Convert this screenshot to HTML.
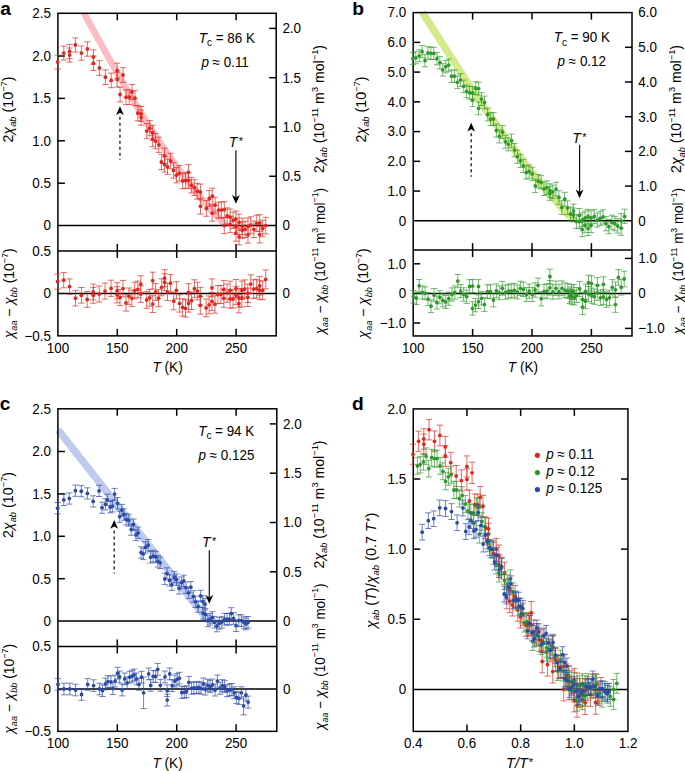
<!DOCTYPE html>
<html><head><meta charset="utf-8"><style>html,body{margin:0;padding:0;background:#fff;width:685px;height:771px;overflow:hidden}svg{display:block}text{font-family:"Liberation Sans",sans-serif}</style></head><body>
<svg width="685" height="771" viewBox="0 0 685 771">
<rect width="685" height="771" fill="#fff"/>
<g fill="#000">
<text x="0.2" y="14.6" font-size="19.2" font-weight="bold">a</text>
<text x="352.3" y="14.6" font-size="19.2" font-weight="bold">b</text>
<text x="-0.3" y="410.0" font-size="19.2" font-weight="bold">c</text>
<text x="352.0" y="410.0" font-size="19.2" font-weight="bold">d</text>
<clipPath id="au"><rect x="57.9" y="13.3" width="218.29999999999998" height="237.6"/></clipPath>
<clipPath id="al"><rect x="57.9" y="250.9" width="218.29999999999998" height="84.95000000000002"/></clipPath>
<clipPath id="cl225"><rect x="0" y="0" width="685" height="225.60"/></clipPath>
<path d="M84.06 13.50 L86.15 17.23 L88.23 20.96 L90.30 24.69 L92.37 28.42 L94.44 32.15 L96.51 35.88 L98.58 39.61 L100.65 43.34 L102.72 47.07 L104.80 50.81 L106.88 54.54 L108.97 58.27 L111.06 62.00 L113.16 65.73 L115.27 69.46 L117.39 73.19 L119.52 76.92 L121.66 80.65 L123.82 84.38 L125.98 88.11 L128.17 91.84 L130.37 95.57 L132.59 99.30 L134.83 103.03 L137.08 106.76 L139.36 110.49 L141.66 114.22 L143.98 117.95 L146.32 121.68 L148.70 125.42 L151.09 129.15 L153.52 132.88 L155.97 136.61 L158.45 140.34 L160.96 144.07 L163.50 147.80 L166.08 151.53 L168.68 155.26 L171.33 158.99 L174.01 162.72 L176.72 166.45 L179.48 170.18 L182.27 173.91 L185.10 177.64 L187.97 181.37 L190.89 185.10 L193.85 188.83 L196.85 192.56 L199.90 196.29 L202.99 200.03 L206.14 203.76 L209.33 207.49 L212.57 211.22 L215.86 214.95 L219.20 218.68 L222.60 222.41 L226.05 226.14 L229.56 229.87 L233.12 233.60" fill="none" stroke="#fdbcc4" stroke-width="6.6" clip-path="url(#cl225)"/>
<line x1="57.90" y1="225.60" x2="276.20" y2="225.60" stroke="#000" stroke-width="1.5"/>
<line x1="57.90" y1="293.50" x2="276.20" y2="293.50" stroke="#000" stroke-width="1.5"/>
<rect x="57.90" y="13.30" width="218.30" height="322.55" fill="none" stroke="#000" stroke-width="1.5"/>
<line x1="57.90" y1="250.90" x2="276.20" y2="250.90" stroke="#000" stroke-width="1.5"/>
<line x1="117.30" y1="13.30" x2="117.30" y2="20.30" stroke="#000" stroke-width="1.5"/>
<line x1="117.30" y1="243.90" x2="117.30" y2="257.90" stroke="#000" stroke-width="1.5"/>
<line x1="117.30" y1="328.85" x2="117.30" y2="335.85" stroke="#000" stroke-width="1.5"/>
<line x1="176.70" y1="13.30" x2="176.70" y2="20.30" stroke="#000" stroke-width="1.5"/>
<line x1="176.70" y1="243.90" x2="176.70" y2="257.90" stroke="#000" stroke-width="1.5"/>
<line x1="176.70" y1="328.85" x2="176.70" y2="335.85" stroke="#000" stroke-width="1.5"/>
<line x1="236.10" y1="13.30" x2="236.10" y2="20.30" stroke="#000" stroke-width="1.5"/>
<line x1="236.10" y1="243.90" x2="236.10" y2="257.90" stroke="#000" stroke-width="1.5"/>
<line x1="236.10" y1="328.85" x2="236.10" y2="335.85" stroke="#000" stroke-width="1.5"/>
<text transform="translate(50.90,230.40) scale(0.94,1)" font-size="14.3" text-anchor="end">0</text>
<line x1="57.90" y1="183.20" x2="64.90" y2="183.20" stroke="#000" stroke-width="1.5"/>
<text transform="translate(50.90,188.00) scale(0.94,1)" font-size="14.3" text-anchor="end">0.5</text>
<line x1="57.90" y1="140.80" x2="64.90" y2="140.80" stroke="#000" stroke-width="1.5"/>
<text transform="translate(50.90,145.60) scale(0.94,1)" font-size="14.3" text-anchor="end">1.0</text>
<line x1="57.90" y1="98.40" x2="64.90" y2="98.40" stroke="#000" stroke-width="1.5"/>
<text transform="translate(50.90,103.20) scale(0.94,1)" font-size="14.3" text-anchor="end">1.5</text>
<line x1="57.90" y1="56.00" x2="64.90" y2="56.00" stroke="#000" stroke-width="1.5"/>
<text transform="translate(50.90,60.80) scale(0.94,1)" font-size="14.3" text-anchor="end">2.0</text>
<text transform="translate(50.90,18.40) scale(0.94,1)" font-size="14.3" text-anchor="end">2.5</text>
<text transform="translate(282.40,230.40) scale(0.94,1)" font-size="14.3" text-anchor="start">0</text>
<line x1="269.20" y1="176.30" x2="276.20" y2="176.30" stroke="#000" stroke-width="1.5"/>
<text transform="translate(282.40,181.10) scale(0.94,1)" font-size="14.3" text-anchor="start">0.5</text>
<line x1="269.20" y1="127.00" x2="276.20" y2="127.00" stroke="#000" stroke-width="1.5"/>
<text transform="translate(282.40,131.80) scale(0.94,1)" font-size="14.3" text-anchor="start">1.0</text>
<line x1="269.20" y1="77.70" x2="276.20" y2="77.70" stroke="#000" stroke-width="1.5"/>
<text transform="translate(282.40,82.50) scale(0.94,1)" font-size="14.3" text-anchor="start">1.5</text>
<line x1="269.20" y1="28.40" x2="276.20" y2="28.40" stroke="#000" stroke-width="1.5"/>
<text transform="translate(282.40,33.20) scale(0.94,1)" font-size="14.3" text-anchor="start">2.0</text>
<text transform="translate(50.90,255.80) scale(0.94,1)" font-size="14.3" text-anchor="end">0.5</text>
<text transform="translate(50.90,298.30) scale(0.94,1)" font-size="14.3" text-anchor="end">0</text>
<text transform="translate(50.90,340.80) scale(0.94,1)" font-size="14.3" text-anchor="end">−0.5</text>
<text transform="translate(282.40,298.30) scale(0.94,1)" font-size="14.3" text-anchor="start">0</text>
<g stroke="#e0261d" stroke-width="0.95" fill="none" stroke-opacity="0.72"><path d="M57.6 55.1V69.1M54.5 55.1H60.7M54.5 69.1H60.7M63.8 46.1V60.1M60.7 46.1H66.9M60.7 60.1H66.9M69.6 44.4V58.6M66.5 44.4H72.7M66.5 58.6H72.7M69.6 48.0V62.2M66.5 48.0H72.7M66.5 62.2H72.7M75.4 37.9V52.1M72.3 37.9H78.5M72.3 52.1H78.5M81.4 46.0V60.2M78.3 46.0H84.5M78.3 60.2H84.5M87.4 41.8V56.2M84.3 41.8H90.5M84.3 56.2H90.5M93.4 49.8V64.2M90.3 49.8H96.5M90.3 64.2H96.5M93.4 56.1V70.5M90.3 56.1H96.5M90.3 70.5H96.5M99.4 60.7V75.3M96.3 60.7H102.5M96.3 75.3H102.5M105.4 69.9V84.5M102.3 69.9H108.5M102.3 84.5H108.5M111.2 73.1V87.7M108.1 73.1H114.3M108.1 87.7H114.3M117.2 63.2V78.0M114.1 63.2H120.3M114.1 78.0H120.3M117.2 72.2V87.0M114.1 72.2H120.3M114.1 87.0H120.3M123.0 67.6V82.4M119.9 67.6H126.1M119.9 82.4H126.1M120.1 87.1V101.9M117.0 87.1H123.2M117.0 101.9H123.2M126.0 89.8V104.6M122.9 89.8H129.1M122.9 104.6H129.1M129.2 89.8V104.6M126.1 89.8H132.3M126.1 104.6H132.3M132.0 84.5V99.5M128.9 84.5H135.1M128.9 99.5H135.1M135.0 90.7V105.7M131.9 90.7H138.1M131.9 105.7H138.1M137.9 105.7V120.7M134.8 105.7H141.0M134.8 120.7H141.0M141.1 106.5V121.5M138.0 106.5H144.2M138.0 121.5H144.2M141.1 110.1V125.1M138.0 110.1H144.2M138.0 125.1H144.2M146.8 123.5V138.7M143.7 123.5H149.9M143.7 138.7H149.9M149.7 120.6V135.8M146.6 120.6H152.8M146.6 135.8H152.8M152.6 125.2V140.4M149.5 125.2H155.7M149.5 140.4H155.7M152.6 131.5V146.7M149.5 131.5H155.7M149.5 146.7H155.7M155.5 133.6V148.8M152.4 133.6H158.6M152.4 148.8H158.6M158.8 137.2V152.4M155.7 137.2H161.9M155.7 152.4H161.9M164.6 148.1V163.5M161.5 148.1H167.7M161.5 163.5H167.7M161.4 154.4V169.6M158.3 154.4H164.5M158.3 169.6H164.5M164.6 156.8V172.2M161.5 156.8H167.7M161.5 172.2H167.7M167.5 159.2V174.6M164.4 159.2H170.6M164.4 174.6H170.6M170.6 153.3V168.7M167.5 153.3H173.7M167.5 168.7H173.7M173.5 162.7V178.1M170.4 162.7H176.6M170.4 178.1H176.6M176.4 167.5V182.9M173.3 167.5H179.5M173.3 182.9H179.5M179.3 165.5V181.1M176.2 165.5H182.4M176.2 181.1H182.4M188.4 164.5V180.1M185.3 164.5H191.5M185.3 180.1H191.5M182.6 173.2V188.8M179.5 173.2H185.7M179.5 188.8H185.7M185.5 172.8V188.4M182.4 172.8H188.6M182.4 188.4H188.6M188.4 172.8V188.4M185.3 172.8H191.5M185.3 188.4H191.5M191.4 177.4V193.0M188.3 177.4H194.5M188.3 193.0H194.5M194.3 179.7V195.5M191.2 179.7H197.4M191.2 195.5H197.4M197.2 183.3V199.1M194.1 183.3H200.3M194.1 199.1H200.3M200.4 184.1V199.9M197.3 184.1H203.5M197.3 199.9H203.5M200.5 198.3V214.1M197.4 198.3H203.6M197.4 214.1H203.6M206.4 200.5V216.3M203.3 200.5H209.5M203.3 216.3H209.5M209.2 190.6V206.4M206.1 190.6H212.3M206.1 206.4H212.3M212.3 188.2V204.2M209.2 188.2H215.4M209.2 204.2H215.4M212.2 205.2V221.2M209.1 205.2H215.3M209.1 221.2H215.3M215.1 197.2V213.2M212.0 197.2H218.2M212.0 213.2H218.2M218.5 202.1V218.1M215.4 202.1H221.6M215.4 218.1H221.6M221.4 202.1V218.1M218.3 202.1H224.5M218.3 218.1H224.5M224.3 201.6V217.6M221.2 201.6H227.4M221.2 217.6H227.4M227.2 207.9V224.1M224.1 207.9H230.3M224.1 224.1H230.3M230.1 209.1V225.3M227.0 209.1H233.2M227.0 225.3H233.2M224.3 217.6V233.6M221.2 217.6H227.4M221.2 233.6H227.4M230.2 216.4V232.6M227.1 216.4H233.3M227.1 232.6H233.3M233.1 212.3V228.5M230.0 212.3H236.2M230.0 228.5H236.2M235.9 211.0V227.2M232.8 211.0H239.0M232.8 227.2H239.0M235.9 218.2V234.4M232.8 218.2H239.0M232.8 234.4H239.0M235.9 225.0V241.2M232.8 225.0H239.0M232.8 241.2H239.0M239.1 228.7V244.9M236.0 228.7H242.2M236.0 244.9H242.2M239.1 214.2V230.4M236.0 214.2H242.2M236.0 230.4H242.2M242.2 218.1V234.5M239.1 218.1H245.3M239.1 234.5H245.3M242.2 222.0V238.4M239.1 222.0H245.3M239.1 238.4H245.3M245.1 221.1V237.5M242.0 221.1H248.2M242.0 237.5H248.2M248.0 218.1V234.5M244.9 218.1H251.1M244.9 234.5H251.1M248.0 226.7V243.1M244.9 226.7H251.1M244.9 243.1H251.1M250.8 216.8V233.2M247.7 216.8H253.9M247.7 233.2H253.9M253.9 221.1V237.5M250.8 221.1H257.0M250.8 237.5H257.0M256.8 215.3V231.7M253.7 215.3H259.9M253.7 231.7H259.9M259.7 214.6V231.2M256.6 214.6H262.8M256.6 231.2H262.8M259.7 226.3V242.9M256.6 226.3H262.8M256.6 242.9H262.8M262.7 220.2V236.8M259.6 220.2H265.8M259.6 236.8H265.8M265.7 217.3V233.9M262.6 217.3H268.8M262.6 233.9H268.8"/></g><g fill="#e0261d"><circle cx="57.6" cy="62.1" r="1.9"/><circle cx="63.8" cy="53.1" r="1.9"/><circle cx="69.6" cy="51.5" r="1.9"/><circle cx="69.6" cy="55.1" r="1.9"/><circle cx="75.4" cy="45.0" r="1.9"/><circle cx="81.4" cy="53.1" r="1.9"/><circle cx="87.4" cy="49.0" r="1.9"/><circle cx="93.4" cy="57.0" r="1.9"/><circle cx="93.4" cy="63.3" r="1.9"/><circle cx="99.4" cy="68.0" r="1.9"/><circle cx="105.4" cy="77.2" r="1.9"/><circle cx="111.2" cy="80.4" r="1.9"/><circle cx="117.2" cy="70.6" r="1.9"/><circle cx="117.2" cy="79.6" r="1.9"/><circle cx="123.0" cy="75.0" r="1.9"/><circle cx="120.1" cy="94.5" r="1.9"/><circle cx="126.0" cy="97.2" r="1.9"/><circle cx="129.2" cy="97.2" r="1.9"/><circle cx="132.0" cy="92.0" r="1.9"/><circle cx="135.0" cy="98.2" r="1.9"/><circle cx="137.9" cy="113.2" r="1.9"/><circle cx="141.1" cy="114.0" r="1.9"/><circle cx="141.1" cy="117.6" r="1.9"/><circle cx="146.8" cy="131.1" r="1.9"/><circle cx="149.7" cy="128.2" r="1.9"/><circle cx="152.6" cy="132.8" r="1.9"/><circle cx="152.6" cy="139.1" r="1.9"/><circle cx="155.5" cy="141.2" r="1.9"/><circle cx="158.8" cy="144.8" r="1.9"/><circle cx="164.6" cy="155.8" r="1.9"/><circle cx="161.4" cy="162.0" r="1.9"/><circle cx="164.6" cy="164.5" r="1.9"/><circle cx="167.5" cy="166.9" r="1.9"/><circle cx="170.6" cy="161.0" r="1.9"/><circle cx="173.5" cy="170.4" r="1.9"/><circle cx="176.4" cy="175.2" r="1.9"/><circle cx="179.3" cy="173.3" r="1.9"/><circle cx="188.4" cy="172.3" r="1.9"/><circle cx="182.6" cy="181.0" r="1.9"/><circle cx="185.5" cy="180.6" r="1.9"/><circle cx="188.4" cy="180.6" r="1.9"/><circle cx="191.4" cy="185.2" r="1.9"/><circle cx="194.3" cy="187.6" r="1.9"/><circle cx="197.2" cy="191.2" r="1.9"/><circle cx="200.4" cy="192.0" r="1.9"/><circle cx="200.5" cy="206.2" r="1.9"/><circle cx="206.4" cy="208.4" r="1.9"/><circle cx="209.2" cy="198.5" r="1.9"/><circle cx="212.3" cy="196.2" r="1.9"/><circle cx="212.2" cy="213.2" r="1.9"/><circle cx="215.1" cy="205.2" r="1.9"/><circle cx="218.5" cy="210.1" r="1.9"/><circle cx="221.4" cy="210.1" r="1.9"/><circle cx="224.3" cy="209.6" r="1.9"/><circle cx="227.2" cy="216.0" r="1.9"/><circle cx="230.1" cy="217.2" r="1.9"/><circle cx="224.3" cy="225.6" r="1.9"/><circle cx="230.2" cy="224.5" r="1.9"/><circle cx="233.1" cy="220.4" r="1.9"/><circle cx="235.9" cy="219.1" r="1.9"/><circle cx="235.9" cy="226.3" r="1.9"/><circle cx="235.9" cy="233.1" r="1.9"/><circle cx="239.1" cy="236.8" r="1.9"/><circle cx="239.1" cy="222.3" r="1.9"/><circle cx="242.2" cy="226.3" r="1.9"/><circle cx="242.2" cy="230.2" r="1.9"/><circle cx="245.1" cy="229.3" r="1.9"/><circle cx="248.0" cy="226.3" r="1.9"/><circle cx="248.0" cy="234.9" r="1.9"/><circle cx="250.8" cy="225.0" r="1.9"/><circle cx="253.9" cy="229.3" r="1.9"/><circle cx="256.8" cy="223.5" r="1.9"/><circle cx="259.7" cy="222.9" r="1.9"/><circle cx="259.7" cy="234.6" r="1.9"/><circle cx="262.7" cy="228.5" r="1.9"/><circle cx="265.7" cy="225.6" r="1.9"/></g>
<g stroke="#e0261d" stroke-width="0.95" fill="none" stroke-opacity="0.72"><path d="M57.5 274.0V289.2M54.4 274.0H60.6M54.4 289.2H60.6M63.7 272.6V287.8M60.6 272.6H66.8M60.6 287.8H66.8M69.6 278.9V294.3M66.5 278.9H72.7M66.5 294.3H72.7M75.5 290.4V306.0M72.4 290.4H78.6M72.4 306.0H78.6M81.4 287.5V303.1M78.3 287.5H84.5M78.3 303.1H84.5M87.2 291.6V307.4M84.1 291.6H90.3M84.1 307.4H90.3M93.3 284.1V299.9M90.2 284.1H96.4M90.2 299.9H96.4M93.3 287.4V303.2M90.2 287.4H96.4M90.2 303.2H96.4M99.2 286.0V302.0M96.1 286.0H102.3M96.1 302.0H102.3M105.0 283.1V299.1M101.9 283.1H108.1M101.9 299.1H108.1M111.1 280.2V296.4M108.0 280.2H114.2M108.0 296.4H114.2M117.1 282.7V298.9M114.0 282.7H120.2M114.0 298.9H120.2M117.1 286.7V302.9M114.0 286.7H120.2M114.0 302.9H120.2M120.0 289.4V305.6M116.9 289.4H123.1M116.9 305.6H123.1M123.0 280.4V296.8M119.9 280.4H126.1M119.9 296.8H126.1M126.0 294.7V311.1M122.9 294.7H129.1M122.9 311.1H129.1M128.9 288.0V304.4M125.8 288.0H132.0M125.8 304.4H132.0M131.9 290.1V306.5M128.8 290.1H135.0M128.8 306.5H135.0M134.7 282.3V298.9M131.6 282.3H137.8M131.6 298.9H137.8M137.8 281.1V297.7M134.7 281.1H140.9M134.7 297.7H140.9M140.8 275.8V292.4M137.7 275.8H143.9M137.7 292.4H143.9M140.8 285.8V302.4M137.7 285.8H143.9M137.7 302.4H143.9M146.7 291.6V308.4M143.6 291.6H149.8M143.6 308.4H149.8M149.7 289.4V306.2M146.6 289.4H152.8M146.6 306.2H152.8M152.7 272.2V289.0M149.6 272.2H155.8M149.6 289.0H155.8M152.7 295.7V312.5M149.6 295.7H155.8M149.6 312.5H155.8M155.7 283.6V300.4M152.6 283.6H158.8M152.6 300.4H158.8M158.6 289.7V306.7M155.5 289.7H161.7M155.5 306.7H161.7M161.6 278.8V295.8M158.5 278.8H164.7M158.5 295.8H164.7M164.6 269.7V286.7M161.5 269.7H167.7M161.5 286.7H167.7M164.6 273.7V290.7M161.5 273.7H167.7M161.5 290.7H167.7M167.5 283.5V300.5M164.4 283.5H170.6M164.4 300.5H170.6M170.5 274.6V291.8M167.4 274.6H173.6M167.4 291.8H173.6M173.7 292.6V309.8M170.6 292.6H176.8M170.6 309.8H176.8M176.4 281.7V298.9M173.3 281.7H179.5M173.3 298.9H179.5M179.6 294.7V312.1M176.5 294.7H182.7M176.5 312.1H182.7M182.6 298.7V316.1M179.5 298.7H185.7M179.5 316.1H185.7M185.5 299.6V317.0M182.4 299.6H188.6M182.4 317.0H188.6M188.5 294.7V312.1M185.4 294.7H191.6M185.4 312.1H191.6M188.5 283.6V301.0M185.4 283.6H191.6M185.4 301.0H191.6M191.5 291.9V309.5M188.4 291.9H194.6M188.4 309.5H194.6M194.4 279.8V297.4M191.3 279.8H197.5M191.3 297.4H197.5M197.4 282.3V299.9M194.3 282.3H200.5M194.3 299.9H200.5M200.3 287.4V305.0M197.2 287.4H203.4M197.2 305.0H203.4M200.3 296.6V314.2M197.2 296.6H203.4M197.2 314.2H203.4M206.1 299.0V316.8M203.0 299.0H209.2M203.0 316.8H209.2M209.1 296.0V313.8M206.0 296.0H212.2M206.0 313.8H212.2M212.0 292.6V310.4M208.9 292.6H215.1M208.9 310.4H215.1M212.0 278.9V296.7M208.9 278.9H215.1M208.9 296.7H215.1M215.0 295.2V313.2M211.9 295.2H218.1M211.9 313.2H218.1M217.9 285.5V303.5M214.8 285.5H221.0M214.8 303.5H221.0M220.9 285.5V303.5M217.8 285.5H224.0M217.8 303.5H224.0M223.8 280.4V298.4M220.7 280.4H226.9M220.7 298.4H226.9M223.8 289.3V307.3M220.7 289.3H226.9M220.7 307.3H226.9M227.1 284.0V302.2M224.0 284.0H230.2M224.0 302.2H230.2M230.1 281.2V299.4M227.0 281.2H233.2M227.0 299.4H233.2M230.1 289.9V308.1M227.0 289.9H233.2M227.0 308.1H233.2M233.0 289.9V308.1M229.9 289.9H236.1M229.9 308.1H236.1M236.0 279.5V297.7M232.9 279.5H239.1M232.9 297.7H239.1M236.0 286.2V304.4M232.9 286.2H239.1M232.9 304.4H239.1M238.9 288.6V307.0M235.8 288.6H242.0M235.8 307.0H242.0M238.9 294.5V312.9M235.8 294.5H242.0M235.8 312.9H242.0M241.9 281.1V299.5M238.8 281.1H245.0M238.8 299.5H245.0M241.9 288.6V307.0M238.8 288.6H245.0M238.8 307.0H245.0M244.7 279.9V298.3M241.6 279.9H247.8M241.6 298.3H247.8M247.8 284.1V302.5M244.7 284.1H250.9M244.7 302.5H250.9M247.8 288.1V306.5M244.7 288.1H250.9M244.7 306.5H250.9M250.8 274.8V293.4M247.7 274.8H253.9M247.7 293.4H253.9M253.6 279.8V298.4M250.5 279.8H256.7M250.5 298.4H256.7M256.7 279.3V297.9M253.6 279.3H259.8M253.6 297.9H259.8M259.7 276.5V295.1M256.6 276.5H262.8M256.6 295.1H262.8M259.7 281.0V299.6M256.6 281.0H262.8M256.6 299.6H262.8M262.7 280.9V299.7M259.6 280.9H265.8M259.6 299.7H265.8M265.7 270.0V288.8M262.6 270.0H268.8M262.6 288.8H268.8"/></g><g fill="#e0261d"><circle cx="57.5" cy="281.6" r="1.9"/><circle cx="63.7" cy="280.2" r="1.9"/><circle cx="69.6" cy="286.6" r="1.9"/><circle cx="75.5" cy="298.2" r="1.9"/><circle cx="81.4" cy="295.3" r="1.9"/><circle cx="87.2" cy="299.5" r="1.9"/><circle cx="93.3" cy="292.0" r="1.9"/><circle cx="93.3" cy="295.3" r="1.9"/><circle cx="99.2" cy="294.0" r="1.9"/><circle cx="105.0" cy="291.1" r="1.9"/><circle cx="111.1" cy="288.3" r="1.9"/><circle cx="117.1" cy="290.8" r="1.9"/><circle cx="117.1" cy="294.8" r="1.9"/><circle cx="120.0" cy="297.5" r="1.9"/><circle cx="123.0" cy="288.6" r="1.9"/><circle cx="126.0" cy="302.9" r="1.9"/><circle cx="128.9" cy="296.2" r="1.9"/><circle cx="131.9" cy="298.3" r="1.9"/><circle cx="134.7" cy="290.6" r="1.9"/><circle cx="137.8" cy="289.4" r="1.9"/><circle cx="140.8" cy="284.1" r="1.9"/><circle cx="140.8" cy="294.1" r="1.9"/><circle cx="146.7" cy="300.0" r="1.9"/><circle cx="149.7" cy="297.8" r="1.9"/><circle cx="152.7" cy="280.6" r="1.9"/><circle cx="152.7" cy="304.1" r="1.9"/><circle cx="155.7" cy="292.0" r="1.9"/><circle cx="158.6" cy="298.2" r="1.9"/><circle cx="161.6" cy="287.3" r="1.9"/><circle cx="164.6" cy="278.2" r="1.9"/><circle cx="164.6" cy="282.2" r="1.9"/><circle cx="167.5" cy="292.0" r="1.9"/><circle cx="170.5" cy="283.2" r="1.9"/><circle cx="173.7" cy="301.2" r="1.9"/><circle cx="176.4" cy="290.3" r="1.9"/><circle cx="179.6" cy="303.4" r="1.9"/><circle cx="182.6" cy="307.4" r="1.9"/><circle cx="185.5" cy="308.3" r="1.9"/><circle cx="188.5" cy="303.4" r="1.9"/><circle cx="188.5" cy="292.3" r="1.9"/><circle cx="191.5" cy="300.7" r="1.9"/><circle cx="194.4" cy="288.6" r="1.9"/><circle cx="197.4" cy="291.1" r="1.9"/><circle cx="200.3" cy="296.2" r="1.9"/><circle cx="200.3" cy="305.4" r="1.9"/><circle cx="206.1" cy="307.9" r="1.9"/><circle cx="209.1" cy="304.9" r="1.9"/><circle cx="212.0" cy="301.5" r="1.9"/><circle cx="212.0" cy="287.8" r="1.9"/><circle cx="215.0" cy="304.2" r="1.9"/><circle cx="217.9" cy="294.5" r="1.9"/><circle cx="220.9" cy="294.5" r="1.9"/><circle cx="223.8" cy="289.4" r="1.9"/><circle cx="223.8" cy="298.3" r="1.9"/><circle cx="227.1" cy="293.1" r="1.9"/><circle cx="230.1" cy="290.3" r="1.9"/><circle cx="230.1" cy="299.0" r="1.9"/><circle cx="233.0" cy="299.0" r="1.9"/><circle cx="236.0" cy="288.6" r="1.9"/><circle cx="236.0" cy="295.3" r="1.9"/><circle cx="238.9" cy="297.8" r="1.9"/><circle cx="238.9" cy="303.7" r="1.9"/><circle cx="241.9" cy="290.3" r="1.9"/><circle cx="241.9" cy="297.8" r="1.9"/><circle cx="244.7" cy="289.1" r="1.9"/><circle cx="247.8" cy="293.3" r="1.9"/><circle cx="247.8" cy="297.3" r="1.9"/><circle cx="250.8" cy="284.1" r="1.9"/><circle cx="253.6" cy="289.1" r="1.9"/><circle cx="256.7" cy="288.6" r="1.9"/><circle cx="259.7" cy="285.8" r="1.9"/><circle cx="259.7" cy="290.3" r="1.9"/><circle cx="262.7" cy="290.3" r="1.9"/><circle cx="265.7" cy="279.4" r="1.9"/></g>
<text transform="translate(57.90,352.80) scale(0.94,1)" font-size="14.3" text-anchor="middle">100</text>
<text transform="translate(117.30,352.80) scale(0.94,1)" font-size="14.3" text-anchor="middle">150</text>
<text transform="translate(176.70,352.80) scale(0.94,1)" font-size="14.3" text-anchor="middle">200</text>
<text transform="translate(236.10,352.80) scale(0.94,1)" font-size="14.3" text-anchor="middle">250</text>
<text transform="translate(167.60,372.30) scale(0.91,1)" font-size="15" text-anchor="middle"><tspan font-style="italic">T</tspan> (K)</text>
<text transform="translate(13.00,142.60) rotate(-90) scale(1.0,1)" font-size="14.3" text-anchor="start">2<tspan font-style="italic">χ</tspan><tspan font-size="9.3" font-style="italic" dy="3.3">ab</tspan><tspan dy="-3.3"> (10</tspan><tspan font-size="9.3" dy="-6.2">−7</tspan><tspan dy="6.2">)</tspan></text>
<text transform="translate(13.90,338.20) rotate(-90) scale(0.97,1)" font-size="14.3" text-anchor="start"><tspan font-style="italic">χ</tspan><tspan font-size="9.3" font-style="italic" dy="3.3">aa</tspan><tspan dy="-3.3"> − </tspan><tspan font-style="italic">χ</tspan><tspan font-size="9.3" font-style="italic" dy="3.3">bb</tspan><tspan dy="-3.3"> (10</tspan><tspan font-size="9.3" dy="-6.2">−7</tspan><tspan dy="6.2">)</tspan></text>
<text transform="translate(323.90,173.00) rotate(-90) scale(0.99,1)" font-size="14.3" text-anchor="start">2<tspan font-style="italic">χ</tspan><tspan font-size="9.3" font-style="italic" dy="3.3">ab</tspan><tspan dy="-3.3"> (10</tspan><tspan font-size="9.3" dy="-6.2">−11</tspan><tspan dy="6.2"> m</tspan><tspan font-size="9.3" dy="-6.2">3</tspan><tspan dy="6.2"> mol</tspan><tspan font-size="9.3" dy="-6.2">−1</tspan><tspan dy="6.2">)</tspan></text>
<text transform="translate(324.50,334.30) rotate(-90) scale(0.94,1)" font-size="14.3" text-anchor="start"><tspan font-style="italic">χ</tspan><tspan font-size="9.3" font-style="italic" dy="3.3">aa</tspan><tspan dy="-3.3"> − </tspan><tspan font-style="italic">χ</tspan><tspan font-size="9.3" font-style="italic" dy="3.3">bb</tspan><tspan dy="-3.3"> (10</tspan><tspan font-size="9.3" dy="-6.2">−11</tspan><tspan dy="6.2"> m</tspan><tspan font-size="9.3" dy="-6.2">3</tspan><tspan dy="6.2"> mol</tspan><tspan font-size="9.3" dy="-6.2">−1</tspan><tspan dy="6.2">)</tspan></text>
<text transform="translate(198.80,42.75) scale(0.94,1)" font-size="14.3" text-anchor="start"><tspan font-style="italic">T</tspan><tspan font-size="10.5" dy="3.6">c</tspan><tspan dy="-3.6"> = 86 K</tspan></text>
<text transform="translate(201.40,66.80) scale(0.94,1)" font-size="14.3" text-anchor="start"><tspan font-style="italic">p</tspan> ≈ 0.11</text>
<text transform="translate(228.70,146.50) scale(0.94,1)" font-size="14.3" text-anchor="start"><tspan font-style="italic" font-size="14.8">T</tspan><tspan font-size="11.5" dy="-1.6" dx="1.6">*</tspan></text>
<line x1="235.90" y1="150.20" x2="235.90" y2="197.80" stroke="#111" stroke-width="1.2"/>
<path d="M235.90 203.80L232.00 195.00L235.90 197.40L239.80 195.00Z" fill="#000"/>
<line x1="119.95" y1="116.70" x2="119.95" y2="159.70" stroke="#222" stroke-width="1.4" stroke-dasharray="3 3"/>
<path d="M119.95 106.20L116.05 115.00L119.95 112.80L123.85 115.00Z" fill="#000"/>
<clipPath id="bu"><rect x="413.2" y="12.6" width="218.8" height="237.5"/></clipPath>
<clipPath id="bl"><rect x="413.2" y="250.1" width="218.8" height="85.85"/></clipPath>
<clipPath id="cl220"><rect x="0" y="0" width="685" height="220.80"/></clipPath>
<path d="M422.25 12.30 L424.62 15.97 L427.00 19.64 L429.36 23.31 L431.72 26.98 L434.08 30.65 L436.44 34.32 L438.79 37.99 L441.14 41.66 L443.50 45.33 L445.85 48.99 L448.21 52.66 L450.57 56.33 L452.93 60.00 L455.30 63.67 L457.68 67.34 L460.06 71.01 L462.45 74.68 L464.84 78.35 L467.25 82.02 L469.66 85.69 L472.09 89.36 L474.53 93.03 L476.98 96.70 L479.44 100.37 L481.92 104.04 L484.42 107.71 L486.93 111.38 L489.46 115.05 L492.00 118.72 L494.57 122.38 L497.16 126.05 L499.76 129.72 L502.39 133.39 L505.04 137.06 L507.71 140.73 L510.41 144.40 L513.14 148.07 L515.89 151.74 L518.66 155.41 L521.47 159.08 L524.30 162.75 L527.16 166.42 L530.06 170.09 L532.98 173.76 L535.94 177.43 L538.93 181.10 L541.96 184.77 L545.02 188.44 L548.11 192.11 L551.25 195.77 L554.42 199.44 L557.63 203.11 L560.88 206.78 L564.16 210.45 L567.50 214.12 L570.87 217.79 L574.28 221.46 L577.74 225.13 L581.25 228.80" fill="none" stroke="#d4ea8a" stroke-width="7.4" clip-path="url(#cl220)"/>
<line x1="413.20" y1="220.80" x2="632.00" y2="220.80" stroke="#000" stroke-width="1.5"/>
<line x1="413.20" y1="293.40" x2="632.00" y2="293.40" stroke="#000" stroke-width="1.5"/>
<rect x="413.20" y="12.60" width="218.80" height="323.35" fill="none" stroke="#000" stroke-width="1.5"/>
<line x1="413.20" y1="250.10" x2="632.00" y2="250.10" stroke="#000" stroke-width="1.5"/>
<line x1="472.60" y1="12.60" x2="472.60" y2="19.60" stroke="#000" stroke-width="1.5"/>
<line x1="472.60" y1="243.10" x2="472.60" y2="257.10" stroke="#000" stroke-width="1.5"/>
<line x1="472.60" y1="328.95" x2="472.60" y2="335.95" stroke="#000" stroke-width="1.5"/>
<line x1="532.00" y1="12.60" x2="532.00" y2="19.60" stroke="#000" stroke-width="1.5"/>
<line x1="532.00" y1="243.10" x2="532.00" y2="257.10" stroke="#000" stroke-width="1.5"/>
<line x1="532.00" y1="328.95" x2="532.00" y2="335.95" stroke="#000" stroke-width="1.5"/>
<line x1="591.40" y1="12.60" x2="591.40" y2="19.60" stroke="#000" stroke-width="1.5"/>
<line x1="591.40" y1="243.10" x2="591.40" y2="257.10" stroke="#000" stroke-width="1.5"/>
<line x1="591.40" y1="328.95" x2="591.40" y2="335.95" stroke="#000" stroke-width="1.5"/>
<text transform="translate(406.20,225.60) scale(0.94,1)" font-size="14.3" text-anchor="end">0</text>
<line x1="413.20" y1="191.06" x2="420.20" y2="191.06" stroke="#000" stroke-width="1.5"/>
<text transform="translate(406.20,195.86) scale(0.94,1)" font-size="14.3" text-anchor="end">1.0</text>
<line x1="413.20" y1="161.32" x2="420.20" y2="161.32" stroke="#000" stroke-width="1.5"/>
<text transform="translate(406.20,166.12) scale(0.94,1)" font-size="14.3" text-anchor="end">2.0</text>
<line x1="413.20" y1="131.58" x2="420.20" y2="131.58" stroke="#000" stroke-width="1.5"/>
<text transform="translate(406.20,136.38) scale(0.94,1)" font-size="14.3" text-anchor="end">3.0</text>
<line x1="413.20" y1="101.84" x2="420.20" y2="101.84" stroke="#000" stroke-width="1.5"/>
<text transform="translate(406.20,106.64) scale(0.94,1)" font-size="14.3" text-anchor="end">4.0</text>
<line x1="413.20" y1="72.10" x2="420.20" y2="72.10" stroke="#000" stroke-width="1.5"/>
<text transform="translate(406.20,76.90) scale(0.94,1)" font-size="14.3" text-anchor="end">5.0</text>
<line x1="413.20" y1="42.36" x2="420.20" y2="42.36" stroke="#000" stroke-width="1.5"/>
<text transform="translate(406.20,47.16) scale(0.94,1)" font-size="14.3" text-anchor="end">6.0</text>
<text transform="translate(406.20,17.42) scale(0.94,1)" font-size="14.3" text-anchor="end">7.0</text>
<text transform="translate(638.20,225.60) scale(0.94,1)" font-size="14.3" text-anchor="start">0</text>
<line x1="625.00" y1="186.10" x2="632.00" y2="186.10" stroke="#000" stroke-width="1.5"/>
<text transform="translate(638.20,190.90) scale(0.94,1)" font-size="14.3" text-anchor="start">1.0</text>
<line x1="625.00" y1="151.40" x2="632.00" y2="151.40" stroke="#000" stroke-width="1.5"/>
<text transform="translate(638.20,156.20) scale(0.94,1)" font-size="14.3" text-anchor="start">2.0</text>
<line x1="625.00" y1="116.70" x2="632.00" y2="116.70" stroke="#000" stroke-width="1.5"/>
<text transform="translate(638.20,121.50) scale(0.94,1)" font-size="14.3" text-anchor="start">3.0</text>
<line x1="625.00" y1="82.00" x2="632.00" y2="82.00" stroke="#000" stroke-width="1.5"/>
<text transform="translate(638.20,86.80) scale(0.94,1)" font-size="14.3" text-anchor="start">4.0</text>
<line x1="625.00" y1="47.30" x2="632.00" y2="47.30" stroke="#000" stroke-width="1.5"/>
<text transform="translate(638.20,52.10) scale(0.94,1)" font-size="14.3" text-anchor="start">5.0</text>
<text transform="translate(638.20,17.40) scale(0.94,1)" font-size="14.3" text-anchor="start">6.0</text>
<line x1="413.20" y1="263.80" x2="420.20" y2="263.80" stroke="#000" stroke-width="1.5"/>
<text transform="translate(406.20,268.60) scale(0.94,1)" font-size="14.3" text-anchor="end">1.0</text>
<text transform="translate(406.20,298.20) scale(0.94,1)" font-size="14.3" text-anchor="end">0</text>
<line x1="413.20" y1="323.00" x2="420.20" y2="323.00" stroke="#000" stroke-width="1.5"/>
<text transform="translate(406.20,327.80) scale(0.94,1)" font-size="14.3" text-anchor="end">−1.0</text>
<line x1="625.00" y1="258.40" x2="632.00" y2="258.40" stroke="#000" stroke-width="1.5"/>
<text transform="translate(638.20,263.20) scale(0.94,1)" font-size="14.3" text-anchor="start">1.0</text>
<text transform="translate(638.20,298.20) scale(0.94,1)" font-size="14.3" text-anchor="start">0</text>
<line x1="625.00" y1="328.40" x2="632.00" y2="328.40" stroke="#000" stroke-width="1.5"/>
<text transform="translate(638.20,333.20) scale(0.94,1)" font-size="14.3" text-anchor="start">−1.0</text>
<g stroke="#2f9a2a" stroke-width="0.95" fill="none" stroke-opacity="0.72"><path d="M412.9 52.7V64.7M409.8 52.7H416.0M409.8 64.7H416.0M415.8 51.8V63.8M412.7 51.8H418.9M412.7 63.8H418.9M419.2 49.8V61.8M416.1 49.8H422.3M416.1 61.8H422.3M422.1 45.6V57.8M419.0 45.6H425.2M419.0 57.8H425.2M425.0 54.6V66.8M421.9 54.6H428.1M421.9 66.8H428.1M428.0 46.7V58.9M424.9 46.7H431.1M424.9 58.9H431.1M430.9 47.3V59.5M427.8 47.3H434.0M427.8 59.5H434.0M433.8 47.3V59.5M430.7 47.3H436.9M430.7 59.5H436.9M437.0 52.6V64.8M433.9 52.6H440.1M433.9 64.8H440.1M439.9 56.4V68.8M436.8 56.4H443.0M436.8 68.8H443.0M442.8 63.7V76.1M439.7 63.7H445.9M439.7 76.1H445.9M445.8 60.4V72.8M442.7 60.4H448.9M442.7 72.8H448.9M448.7 58.9V71.3M445.6 58.9H451.8M445.6 71.3H451.8M451.6 70.0V82.4M448.5 70.0H454.7M448.5 82.4H454.7M454.5 70.0V82.4M451.4 70.0H457.6M451.4 82.4H457.6M457.4 76.0V88.6M454.3 76.0H460.5M454.3 88.6H460.5M460.4 73.8V86.4M457.3 73.8H463.5M457.3 86.4H463.5M463.7 80.1V92.7M460.6 80.1H466.8M460.6 92.7H466.8M466.6 85.1V97.7M463.5 85.1H469.7M463.5 97.7H469.7M469.6 86.5V99.1M466.5 86.5H472.7M466.5 99.1H472.7M472.5 86.5V99.1M469.4 86.5H475.6M469.4 99.1H475.6M472.5 94.0V106.6M469.4 94.0H475.6M469.4 106.6H475.6M475.7 81.8V94.6M472.6 81.8H478.8M472.6 94.6H478.8M478.6 82.2V95.0M475.5 82.2H481.7M475.5 95.0H481.7M478.6 101.9V114.7M475.5 101.9H481.7M475.5 114.7H481.7M481.5 92.7V105.5M478.4 92.7H484.6M478.4 105.5H484.6M484.5 96.1V108.9M481.4 96.1H487.6M481.4 108.9H487.6M487.7 108.1V120.9M484.6 108.1H490.8M484.6 120.9H490.8M490.6 112.7V125.5M487.5 112.7H493.7M487.5 125.5H493.7M493.5 112.6V125.6M490.4 112.6H496.6M490.4 125.6H496.6M496.4 124.1V137.1M493.3 124.1H499.5M493.3 137.1H499.5M499.4 129.9V142.9M496.3 129.9H502.5M496.3 142.9H502.5M502.4 125.5V138.5M499.3 125.5H505.5M499.3 138.5H505.5M505.3 135.3V148.3M502.2 135.3H508.4M502.2 148.3H508.4M508.2 137.8V150.8M505.1 137.8H511.3M505.1 150.8H511.3M511.5 134.1V147.3M508.4 134.1H514.6M508.4 147.3H514.6M514.5 143.5V156.7M511.4 143.5H517.6M511.4 156.7H517.6M517.4 150.1V163.3M514.3 150.1H520.5M514.3 163.3H520.5M520.4 154.2V167.4M517.3 154.2H523.5M517.3 167.4H523.5M523.3 159.3V172.5M520.2 159.3H526.4M520.2 172.5H526.4M526.2 165.9V179.1M523.1 165.9H529.3M523.1 179.1H529.3M529.1 164.9V178.3M526.0 164.9H532.2M526.0 178.3H532.2M532.3 167.2V180.6M529.2 167.2H535.4M529.2 180.6H535.4M535.3 179.2V192.6M532.2 179.2H538.4M532.2 192.6H538.4M538.2 174.5V187.9M535.1 174.5H541.3M535.1 187.9H541.3M541.1 175.6V189.0M538.0 175.6H544.2M538.0 189.0H544.2M544.0 182.1V195.5M540.9 182.1H547.1M540.9 195.5H547.1M546.9 180.8V194.4M543.8 180.8H550.0M543.8 194.4H550.0M549.9 183.8V197.4M546.8 183.8H553.0M546.8 197.4H553.0M549.9 186.7V200.3M546.8 186.7H553.0M546.8 200.3H553.0M552.9 185.0V198.6M549.8 185.0H556.0M549.8 198.6H556.0M556.0 182.3V195.9M552.9 182.3H559.1M552.9 195.9H559.1M558.9 190.7V204.3M555.8 190.7H562.0M555.8 204.3H562.0M561.8 200.8V214.4M558.7 200.8H564.9M558.7 214.4H564.9M564.7 192.3V206.1M561.6 192.3H567.8M561.6 206.1H567.8M567.6 200.9V214.7M564.5 200.9H570.7M564.5 214.7H570.7M570.5 207.0V220.8M567.4 207.0H573.6M567.4 220.8H573.6M573.5 204.1V217.9M570.4 204.1H576.6M570.4 217.9H576.6M573.5 208.1V221.9M570.4 208.1H576.6M570.4 221.9H576.6M576.4 214.6V228.4M573.3 214.6H579.5M573.3 228.4H579.5M579.3 208.5V222.3M576.2 208.5H582.4M576.2 222.3H582.4M579.3 214.6V228.4M576.2 214.6H582.4M576.2 228.4H582.4M582.2 212.8V226.8M579.1 212.8H585.3M579.1 226.8H585.3M582.2 222.6V236.6M579.1 222.6H585.3M579.1 236.6H585.3M585.1 210.9V224.9M582.0 210.9H588.2M582.0 224.9H588.2M585.1 218.6V232.6M582.0 218.6H588.2M582.0 232.6H588.2M588.1 209.4V223.4M585.0 209.4H591.2M585.0 223.4H591.2M588.1 221.5V235.5M585.0 221.5H591.2M585.0 235.5H591.2M591.0 210.9V224.9M587.9 210.9H594.1M587.9 224.9H594.1M591.0 218.6V232.6M587.9 218.6H594.1M587.9 232.6H594.1M594.3 209.4V223.4M591.2 209.4H597.4M591.2 223.4H597.4M597.3 213.1V227.1M594.2 213.1H600.4M594.2 227.1H600.4M600.2 211.2V225.4M597.1 211.2H603.3M597.1 225.4H603.3M603.1 209.8V224.0M600.0 209.8H606.2M600.0 224.0H606.2M606.0 216.6V230.8M602.9 216.6H609.1M602.9 230.8H609.1M608.9 219.5V233.7M605.8 219.5H612.0M605.8 233.7H612.0M611.9 215.2V229.4M608.8 215.2H615.0M608.8 229.4H615.0M614.8 216.6V230.8M611.7 216.6H617.9M611.7 230.8H617.9M617.7 218.7V233.1M614.6 218.7H620.8M614.6 233.1H620.8M621.2 220.9V235.3M618.1 220.9H624.3M618.1 235.3H624.3M621.2 213.6V228.0M618.1 213.6H624.3M618.1 228.0H624.3M624.6 209.2V223.6M621.5 209.2H627.7M621.5 223.6H627.7"/></g><g fill="#2f9a2a"><circle cx="412.9" cy="58.7" r="1.9"/><circle cx="415.8" cy="57.8" r="1.9"/><circle cx="419.2" cy="55.8" r="1.9"/><circle cx="422.1" cy="51.7" r="1.9"/><circle cx="425.0" cy="60.7" r="1.9"/><circle cx="428.0" cy="52.8" r="1.9"/><circle cx="430.9" cy="53.4" r="1.9"/><circle cx="433.8" cy="53.4" r="1.9"/><circle cx="437.0" cy="58.7" r="1.9"/><circle cx="439.9" cy="62.6" r="1.9"/><circle cx="442.8" cy="69.9" r="1.9"/><circle cx="445.8" cy="66.6" r="1.9"/><circle cx="448.7" cy="65.1" r="1.9"/><circle cx="451.6" cy="76.2" r="1.9"/><circle cx="454.5" cy="76.2" r="1.9"/><circle cx="457.4" cy="82.3" r="1.9"/><circle cx="460.4" cy="80.1" r="1.9"/><circle cx="463.7" cy="86.4" r="1.9"/><circle cx="466.6" cy="91.4" r="1.9"/><circle cx="469.6" cy="92.8" r="1.9"/><circle cx="472.5" cy="92.8" r="1.9"/><circle cx="472.5" cy="100.3" r="1.9"/><circle cx="475.7" cy="88.2" r="1.9"/><circle cx="478.6" cy="88.6" r="1.9"/><circle cx="478.6" cy="108.3" r="1.9"/><circle cx="481.5" cy="99.1" r="1.9"/><circle cx="484.5" cy="102.5" r="1.9"/><circle cx="487.7" cy="114.5" r="1.9"/><circle cx="490.6" cy="119.1" r="1.9"/><circle cx="493.5" cy="119.1" r="1.9"/><circle cx="496.4" cy="130.6" r="1.9"/><circle cx="499.4" cy="136.4" r="1.9"/><circle cx="502.4" cy="132.0" r="1.9"/><circle cx="505.3" cy="141.8" r="1.9"/><circle cx="508.2" cy="144.3" r="1.9"/><circle cx="511.5" cy="140.7" r="1.9"/><circle cx="514.5" cy="150.1" r="1.9"/><circle cx="517.4" cy="156.7" r="1.9"/><circle cx="520.4" cy="160.8" r="1.9"/><circle cx="523.3" cy="165.9" r="1.9"/><circle cx="526.2" cy="172.5" r="1.9"/><circle cx="529.1" cy="171.6" r="1.9"/><circle cx="532.3" cy="173.9" r="1.9"/><circle cx="535.3" cy="185.9" r="1.9"/><circle cx="538.2" cy="181.2" r="1.9"/><circle cx="541.1" cy="182.3" r="1.9"/><circle cx="544.0" cy="188.8" r="1.9"/><circle cx="546.9" cy="187.6" r="1.9"/><circle cx="549.9" cy="190.6" r="1.9"/><circle cx="549.9" cy="193.5" r="1.9"/><circle cx="552.9" cy="191.8" r="1.9"/><circle cx="556.0" cy="189.1" r="1.9"/><circle cx="558.9" cy="197.5" r="1.9"/><circle cx="561.8" cy="207.6" r="1.9"/><circle cx="564.7" cy="199.2" r="1.9"/><circle cx="567.6" cy="207.8" r="1.9"/><circle cx="570.5" cy="213.9" r="1.9"/><circle cx="573.5" cy="211.0" r="1.9"/><circle cx="573.5" cy="215.0" r="1.9"/><circle cx="576.4" cy="221.5" r="1.9"/><circle cx="579.3" cy="215.4" r="1.9"/><circle cx="579.3" cy="221.5" r="1.9"/><circle cx="582.2" cy="219.8" r="1.9"/><circle cx="582.2" cy="229.6" r="1.9"/><circle cx="585.1" cy="217.9" r="1.9"/><circle cx="585.1" cy="225.6" r="1.9"/><circle cx="588.1" cy="216.4" r="1.9"/><circle cx="588.1" cy="228.5" r="1.9"/><circle cx="591.0" cy="217.9" r="1.9"/><circle cx="591.0" cy="225.6" r="1.9"/><circle cx="594.3" cy="216.4" r="1.9"/><circle cx="597.3" cy="220.1" r="1.9"/><circle cx="600.2" cy="218.3" r="1.9"/><circle cx="603.1" cy="216.9" r="1.9"/><circle cx="606.0" cy="223.7" r="1.9"/><circle cx="608.9" cy="226.6" r="1.9"/><circle cx="611.9" cy="222.3" r="1.9"/><circle cx="614.8" cy="223.7" r="1.9"/><circle cx="617.7" cy="225.9" r="1.9"/><circle cx="621.2" cy="228.1" r="1.9"/><circle cx="621.2" cy="220.8" r="1.9"/><circle cx="624.6" cy="216.4" r="1.9"/></g>
<g stroke="#2f9a2a" stroke-width="0.95" fill="none" stroke-opacity="0.72"><path d="M413.4 290.4V303.0M410.3 290.4H416.5M410.3 303.0H416.5M416.4 291.9V304.5M413.3 291.9H419.5M413.3 304.5H419.5M419.2 279.5V292.1M416.1 279.5H422.3M416.1 292.1H422.3M422.3 286.1V298.9M419.2 286.1H425.4M419.2 298.9H425.4M425.1 286.9V299.7M422.0 286.9H428.2M422.0 299.7H428.2M428.1 292.8V305.6M425.0 292.8H431.2M425.0 305.6H431.2M431.0 299.8V312.6M427.9 299.8H434.1M427.9 312.6H434.1M434.0 288.6V301.4M430.9 288.6H437.1M430.9 301.4H437.1M436.9 296.0V309.0M433.8 296.0H440.0M433.8 309.0H440.0M439.9 290.8V303.8M436.8 290.8H443.0M436.8 303.8H443.0M442.9 293.9V306.9M439.8 293.9H446.0M439.8 306.9H446.0M445.8 295.5V308.5M442.7 295.5H448.9M442.7 308.5H448.9M448.8 292.1V305.3M445.7 292.1H451.9M445.7 305.3H451.9M452.0 287.9V301.1M448.9 287.9H455.1M448.9 301.1H455.1M454.8 285.9V299.1M451.7 285.9H457.9M451.7 299.1H457.9M457.8 274.5V287.7M454.7 274.5H460.9M454.7 287.7H460.9M460.7 284.5V297.7M457.6 284.5H463.8M457.6 297.7H463.8M463.7 287.8V301.2M460.6 287.8H466.8M460.6 301.2H466.8M466.7 290.0V303.4M463.6 290.0H469.8M463.6 303.4H469.8M469.6 279.7V293.1M466.5 279.7H472.7M466.5 293.1H472.7M472.6 279.4V292.8M469.5 279.4H475.7M469.5 292.8H475.7M472.6 301.7V315.1M469.5 301.7H475.7M469.5 315.1H475.7M475.5 298.4V311.8M472.4 298.4H478.6M472.4 311.8H478.6M478.5 279.6V293.2M475.4 279.6H481.6M475.4 293.2H481.6M478.5 294.9V308.5M475.4 294.9H481.6M475.4 308.5H481.6M481.5 291.5V305.1M478.4 291.5H484.6M478.4 305.1H484.6M484.4 297.8V311.4M481.3 297.8H487.5M481.3 311.4H487.5M487.4 284.8V298.4M484.3 284.8H490.5M484.3 298.4H490.5M490.4 284.8V298.4M487.3 284.8H493.5M487.3 298.4H493.5M493.4 293.1V306.9M490.3 293.1H496.5M490.3 306.9H496.5M496.3 283.9V297.7M493.2 283.9H499.4M493.2 297.7H499.4M499.3 285.9V299.7M496.2 285.9H502.4M496.2 299.7H502.4M502.3 281.4V295.2M499.2 281.4H505.4M499.2 295.2H505.4M505.4 285.3V299.3M502.3 285.3H508.5M502.3 299.3H508.5M508.4 284.1V298.1M505.3 284.1H511.5M505.3 298.1H511.5M511.2 284.1V298.1M508.1 284.1H514.3M508.1 298.1H514.3M514.2 283.3V297.3M511.1 283.3H517.3M511.1 297.3H517.3M517.3 285.0V299.0M514.2 285.0H520.4M514.2 299.0H520.4M520.3 281.2V295.4M517.2 281.2H523.4M517.2 295.4H523.4M523.3 282.3V296.5M520.2 282.3H526.4M520.2 296.5H526.4M526.4 287.4V301.6M523.3 287.4H529.5M523.3 301.6H529.5M529.2 284.0V298.2M526.1 284.0H532.3M526.1 298.2H532.3M532.3 287.4V301.6M529.2 287.4H535.4M529.2 301.6H535.4M535.1 282.8V297.2M532.0 282.8H538.2M532.0 297.2H538.2M538.1 278.1V292.5M535.0 278.1H541.2M535.0 292.5H541.2M541.2 291.5V305.9M538.1 291.5H544.3M538.1 305.9H544.3M544.0 284.4V298.8M540.9 284.4H547.1M540.9 298.8H547.1M547.0 283.9V298.3M543.9 283.9H550.1M543.9 298.3H550.1M549.9 269.2V283.8M546.8 269.2H553.0M546.8 283.8H553.0M549.9 280.5V295.1M546.8 280.5H553.0M546.8 295.1H553.0M552.9 284.7V299.3M549.8 284.7H556.0M549.8 299.3H556.0M555.9 281.0V295.6M552.8 281.0H559.0M552.8 295.6H559.0M558.9 284.3V298.9M555.8 284.3H562.0M555.8 298.9H562.0M562.0 280.9V295.7M558.9 280.9H565.1M558.9 295.7H565.1M565.0 282.9V297.7M561.9 282.9H568.1M561.9 297.7H568.1M567.8 283.7V298.5M564.7 283.7H570.9M564.7 298.5H570.9M570.9 287.1V301.9M567.8 287.1H574.0M567.8 301.9H574.0M572.0 289.6V304.4M568.9 289.6H575.1M568.9 304.4H575.1M573.7 284.6V299.4M570.6 284.6H576.8M570.6 299.4H576.8M569.5 288.8V303.6M566.4 288.8H572.6M566.4 303.6H572.6M574.5 290.2V305.0M571.4 290.2H577.6M571.4 305.0H577.6M571.6 284.4V299.2M568.5 284.4H574.7M568.5 299.2H574.7M576.7 287.5V302.5M573.6 287.5H579.8M573.6 302.5H579.8M579.6 281.4V296.4M576.5 281.4H582.7M576.5 296.4H582.7M582.6 292.0V307.0M579.5 292.0H585.7M579.5 307.0H585.7M582.6 299.6V314.6M579.5 299.6H585.7M579.5 314.6H585.7M585.5 293.7V308.7M582.4 293.7H588.6M582.4 308.7H588.6M585.5 284.1V299.1M582.4 284.1H588.6M582.4 299.1H588.6M588.5 275.2V290.2M585.4 275.2H591.6M585.4 290.2H591.6M588.5 286.5V301.5M585.4 286.5H591.6M585.4 301.5H591.6M591.5 276.0V291.2M588.4 276.0H594.6M588.4 291.2H594.6M591.5 288.1V303.3M588.4 288.1H594.6M588.4 303.3H594.6M594.4 289.1V304.3M591.3 289.1H597.5M591.3 304.3H597.5M597.4 277.7V292.9M594.3 277.7H600.5M594.3 292.9H600.5M597.4 285.2V300.4M594.3 285.2H600.5M594.3 300.4H600.5M600.4 290.2V305.4M597.3 290.2H603.5M597.3 305.4H603.5M603.4 276.8V292.0M600.3 276.8H606.5M600.3 292.0H606.5M603.4 289.4V304.6M600.3 289.4H606.5M600.3 304.6H606.5M606.5 291.8V307.2M603.4 291.8H609.6M603.4 307.2H609.6M609.5 290.1V305.5M606.4 290.1H612.6M606.4 305.5H612.6M612.3 279.6V295.0M609.2 279.6H615.4M609.2 295.0H615.4M615.4 282.1V297.5M612.3 282.1H618.5M612.3 297.5H618.5M615.4 296.9V312.3M612.3 296.9H618.5M612.3 312.3H618.5M618.4 269.6V285.2M615.3 269.6H621.5M615.3 285.2H621.5M621.2 279.5V295.1M618.1 279.5H624.3M618.1 295.1H624.3M624.2 271.2V286.8M621.1 271.2H627.3M621.1 286.8H627.3"/></g><g fill="#2f9a2a"><circle cx="413.4" cy="296.7" r="1.9"/><circle cx="416.4" cy="298.2" r="1.9"/><circle cx="419.2" cy="285.8" r="1.9"/><circle cx="422.3" cy="292.5" r="1.9"/><circle cx="425.1" cy="293.3" r="1.9"/><circle cx="428.1" cy="299.2" r="1.9"/><circle cx="431.0" cy="306.2" r="1.9"/><circle cx="434.0" cy="295.0" r="1.9"/><circle cx="436.9" cy="302.5" r="1.9"/><circle cx="439.9" cy="297.3" r="1.9"/><circle cx="442.9" cy="300.4" r="1.9"/><circle cx="445.8" cy="302.0" r="1.9"/><circle cx="448.8" cy="298.7" r="1.9"/><circle cx="452.0" cy="294.5" r="1.9"/><circle cx="454.8" cy="292.5" r="1.9"/><circle cx="457.8" cy="281.1" r="1.9"/><circle cx="460.7" cy="291.1" r="1.9"/><circle cx="463.7" cy="294.5" r="1.9"/><circle cx="466.7" cy="296.7" r="1.9"/><circle cx="469.6" cy="286.4" r="1.9"/><circle cx="472.6" cy="286.1" r="1.9"/><circle cx="472.6" cy="308.4" r="1.9"/><circle cx="475.5" cy="305.1" r="1.9"/><circle cx="478.5" cy="286.4" r="1.9"/><circle cx="478.5" cy="301.7" r="1.9"/><circle cx="481.5" cy="298.3" r="1.9"/><circle cx="484.4" cy="304.6" r="1.9"/><circle cx="487.4" cy="291.6" r="1.9"/><circle cx="490.4" cy="291.6" r="1.9"/><circle cx="493.4" cy="300.0" r="1.9"/><circle cx="496.3" cy="290.8" r="1.9"/><circle cx="499.3" cy="292.8" r="1.9"/><circle cx="502.3" cy="288.3" r="1.9"/><circle cx="505.4" cy="292.3" r="1.9"/><circle cx="508.4" cy="291.1" r="1.9"/><circle cx="511.2" cy="291.1" r="1.9"/><circle cx="514.2" cy="290.3" r="1.9"/><circle cx="517.3" cy="292.0" r="1.9"/><circle cx="520.3" cy="288.3" r="1.9"/><circle cx="523.3" cy="289.4" r="1.9"/><circle cx="526.4" cy="294.5" r="1.9"/><circle cx="529.2" cy="291.1" r="1.9"/><circle cx="532.3" cy="294.5" r="1.9"/><circle cx="535.1" cy="290.0" r="1.9"/><circle cx="538.1" cy="285.3" r="1.9"/><circle cx="541.2" cy="298.7" r="1.9"/><circle cx="544.0" cy="291.6" r="1.9"/><circle cx="547.0" cy="291.1" r="1.9"/><circle cx="549.9" cy="276.5" r="1.9"/><circle cx="549.9" cy="287.8" r="1.9"/><circle cx="552.9" cy="292.0" r="1.9"/><circle cx="555.9" cy="288.3" r="1.9"/><circle cx="558.9" cy="291.6" r="1.9"/><circle cx="562.0" cy="288.3" r="1.9"/><circle cx="565.0" cy="290.3" r="1.9"/><circle cx="567.8" cy="291.1" r="1.9"/><circle cx="570.9" cy="294.5" r="1.9"/><circle cx="572.0" cy="297.0" r="1.9"/><circle cx="573.7" cy="292.0" r="1.9"/><circle cx="569.5" cy="296.2" r="1.9"/><circle cx="574.5" cy="297.6" r="1.9"/><circle cx="571.6" cy="291.8" r="1.9"/><circle cx="576.7" cy="295.0" r="1.9"/><circle cx="579.6" cy="288.9" r="1.9"/><circle cx="582.6" cy="299.5" r="1.9"/><circle cx="582.6" cy="307.1" r="1.9"/><circle cx="585.5" cy="301.2" r="1.9"/><circle cx="585.5" cy="291.6" r="1.9"/><circle cx="588.5" cy="282.7" r="1.9"/><circle cx="588.5" cy="294.0" r="1.9"/><circle cx="591.5" cy="283.6" r="1.9"/><circle cx="591.5" cy="295.7" r="1.9"/><circle cx="594.4" cy="296.7" r="1.9"/><circle cx="597.4" cy="285.3" r="1.9"/><circle cx="597.4" cy="292.8" r="1.9"/><circle cx="600.4" cy="297.8" r="1.9"/><circle cx="603.4" cy="284.4" r="1.9"/><circle cx="603.4" cy="297.0" r="1.9"/><circle cx="606.5" cy="299.5" r="1.9"/><circle cx="609.5" cy="297.8" r="1.9"/><circle cx="612.3" cy="287.3" r="1.9"/><circle cx="615.4" cy="289.8" r="1.9"/><circle cx="615.4" cy="304.6" r="1.9"/><circle cx="618.4" cy="277.4" r="1.9"/><circle cx="621.2" cy="287.3" r="1.9"/><circle cx="624.2" cy="279.0" r="1.9"/></g>
<text transform="translate(413.20,352.80) scale(0.94,1)" font-size="14.3" text-anchor="middle">100</text>
<text transform="translate(472.60,352.80) scale(0.94,1)" font-size="14.3" text-anchor="middle">150</text>
<text transform="translate(532.00,352.80) scale(0.94,1)" font-size="14.3" text-anchor="middle">200</text>
<text transform="translate(591.40,352.80) scale(0.94,1)" font-size="14.3" text-anchor="middle">250</text>
<text transform="translate(522.90,372.30) scale(0.91,1)" font-size="15" text-anchor="middle"><tspan font-style="italic">T</tspan> (K)</text>
<text transform="translate(365.90,142.60) rotate(-90) scale(1.0,1)" font-size="14.3" text-anchor="start">2<tspan font-style="italic">χ</tspan><tspan font-size="9.3" font-style="italic" dy="3.3">ab</tspan><tspan dy="-3.3"> (10</tspan><tspan font-size="9.3" dy="-6.2">−7</tspan><tspan dy="6.2">)</tspan></text>
<text transform="translate(368.20,338.20) rotate(-90) scale(0.97,1)" font-size="14.3" text-anchor="start"><tspan font-style="italic">χ</tspan><tspan font-size="9.3" font-style="italic" dy="3.3">aa</tspan><tspan dy="-3.3"> − </tspan><tspan font-style="italic">χ</tspan><tspan font-size="9.3" font-style="italic" dy="3.3">bb</tspan><tspan dy="-3.3"> (10</tspan><tspan font-size="9.3" dy="-6.2">−7</tspan><tspan dy="6.2">)</tspan></text>
<text transform="translate(681.30,173.00) rotate(-90) scale(0.99,1)" font-size="14.3" text-anchor="start">2<tspan font-style="italic">χ</tspan><tspan font-size="9.3" font-style="italic" dy="3.3">ab</tspan><tspan dy="-3.3"> (10</tspan><tspan font-size="9.3" dy="-6.2">−11</tspan><tspan dy="6.2"> m</tspan><tspan font-size="9.3" dy="-6.2">3</tspan><tspan dy="6.2"> mol</tspan><tspan font-size="9.3" dy="-6.2">−1</tspan><tspan dy="6.2">)</tspan></text>
<text transform="translate(683.00,334.30) rotate(-90) scale(0.94,1)" font-size="14.3" text-anchor="start"><tspan font-style="italic">χ</tspan><tspan font-size="9.3" font-style="italic" dy="3.3">aa</tspan><tspan dy="-3.3"> − </tspan><tspan font-style="italic">χ</tspan><tspan font-size="9.3" font-style="italic" dy="3.3">bb</tspan><tspan dy="-3.3"> (10</tspan><tspan font-size="9.3" dy="-6.2">−11</tspan><tspan dy="6.2"> m</tspan><tspan font-size="9.3" dy="-6.2">3</tspan><tspan dy="6.2"> mol</tspan><tspan font-size="9.3" dy="-6.2">−1</tspan><tspan dy="6.2">)</tspan></text>
<text transform="translate(553.80,41.90) scale(0.94,1)" font-size="14.3" text-anchor="start"><tspan font-style="italic">T</tspan><tspan font-size="10.5" dy="3.6">c</tspan><tspan dy="-3.6"> = 90 K</tspan></text>
<text transform="translate(557.60,66.10) scale(0.94,1)" font-size="14.3" text-anchor="start"><tspan font-style="italic">p</tspan> ≈ 0.12</text>
<text transform="translate(572.20,142.80) scale(0.94,1)" font-size="14.3" text-anchor="start"><tspan font-style="italic" font-size="14.8">T</tspan><tspan font-size="11.5" dy="-1.6" dx="1.6">*</tspan></text>
<line x1="579.60" y1="144.70" x2="579.60" y2="192.30" stroke="#111" stroke-width="1.2"/>
<path d="M579.60 198.30L575.70 189.50L579.60 191.90L583.50 189.50Z" fill="#000"/>
<line x1="471.20" y1="133.20" x2="471.20" y2="176.70" stroke="#222" stroke-width="1.4" stroke-dasharray="3 3"/>
<path d="M471.20 122.70L467.30 131.50L471.20 129.30L475.10 131.50Z" fill="#000"/>
<clipPath id="cu"><rect x="57.9" y="408.8" width="218.9" height="237.59999999999997"/></clipPath>
<clipPath id="cl"><rect x="57.9" y="646.4" width="218.9" height="84.95000000000005"/></clipPath>
<clipPath id="cl621"><rect x="0" y="0" width="685" height="621.10"/></clipPath>
<path d="M57.97 429.70 L60.62 433.08 L63.28 436.46 L65.94 439.84 L68.60 443.22 L71.25 446.60 L73.91 449.98 L76.57 453.36 L79.23 456.74 L81.88 460.12 L84.54 463.50 L87.20 466.88 L89.86 470.26 L92.51 473.64 L95.17 477.02 L97.83 480.39 L100.49 483.77 L103.14 487.15 L105.80 490.53 L108.46 493.91 L111.12 497.29 L113.77 500.67 L116.43 504.05 L119.09 507.43 L121.74 510.81 L124.40 514.19 L127.06 517.57 L129.72 520.95 L132.37 524.33 L135.03 527.71 L137.69 531.09 L140.35 534.47 L143.00 537.85 L145.66 541.23 L148.32 544.61 L150.98 547.99 L153.63 551.37 L156.29 554.75 L158.95 558.13 L161.61 561.51 L164.26 564.89 L166.92 568.27 L169.58 571.65 L172.23 575.03 L174.89 578.41 L177.55 581.78 L180.21 585.16 L182.86 588.54 L185.52 591.92 L188.18 595.30 L190.84 598.68 L193.49 602.06 L196.15 605.44 L198.81 608.82 L201.47 612.20 L204.12 615.58 L206.78 618.96 L209.44 622.34 L212.10 625.72 L214.75 629.10" fill="none" stroke="#bccbee" stroke-width="7.4" clip-path="url(#cl621)"/>
<line x1="57.90" y1="621.10" x2="276.80" y2="621.10" stroke="#000" stroke-width="1.5"/>
<line x1="57.90" y1="689.00" x2="276.80" y2="689.00" stroke="#000" stroke-width="1.5"/>
<rect x="57.90" y="408.80" width="218.90" height="322.55" fill="none" stroke="#000" stroke-width="1.5"/>
<line x1="57.90" y1="646.40" x2="276.80" y2="646.40" stroke="#000" stroke-width="1.5"/>
<line x1="117.30" y1="408.80" x2="117.30" y2="415.80" stroke="#000" stroke-width="1.5"/>
<line x1="117.30" y1="639.40" x2="117.30" y2="653.40" stroke="#000" stroke-width="1.5"/>
<line x1="117.30" y1="724.35" x2="117.30" y2="731.35" stroke="#000" stroke-width="1.5"/>
<line x1="176.70" y1="408.80" x2="176.70" y2="415.80" stroke="#000" stroke-width="1.5"/>
<line x1="176.70" y1="639.40" x2="176.70" y2="653.40" stroke="#000" stroke-width="1.5"/>
<line x1="176.70" y1="724.35" x2="176.70" y2="731.35" stroke="#000" stroke-width="1.5"/>
<line x1="236.10" y1="408.80" x2="236.10" y2="415.80" stroke="#000" stroke-width="1.5"/>
<line x1="236.10" y1="639.40" x2="236.10" y2="653.40" stroke="#000" stroke-width="1.5"/>
<line x1="236.10" y1="724.35" x2="236.10" y2="731.35" stroke="#000" stroke-width="1.5"/>
<text transform="translate(50.90,625.90) scale(0.94,1)" font-size="14.3" text-anchor="end">0</text>
<line x1="57.90" y1="578.70" x2="64.90" y2="578.70" stroke="#000" stroke-width="1.5"/>
<text transform="translate(50.90,583.50) scale(0.94,1)" font-size="14.3" text-anchor="end">0.5</text>
<line x1="57.90" y1="536.30" x2="64.90" y2="536.30" stroke="#000" stroke-width="1.5"/>
<text transform="translate(50.90,541.10) scale(0.94,1)" font-size="14.3" text-anchor="end">1.0</text>
<line x1="57.90" y1="493.90" x2="64.90" y2="493.90" stroke="#000" stroke-width="1.5"/>
<text transform="translate(50.90,498.70) scale(0.94,1)" font-size="14.3" text-anchor="end">1.5</text>
<line x1="57.90" y1="451.50" x2="64.90" y2="451.50" stroke="#000" stroke-width="1.5"/>
<text transform="translate(50.90,456.30) scale(0.94,1)" font-size="14.3" text-anchor="end">2.0</text>
<text transform="translate(50.90,413.90) scale(0.94,1)" font-size="14.3" text-anchor="end">2.5</text>
<text transform="translate(283.00,625.90) scale(0.94,1)" font-size="14.3" text-anchor="start">0</text>
<line x1="269.80" y1="571.80" x2="276.80" y2="571.80" stroke="#000" stroke-width="1.5"/>
<text transform="translate(283.00,576.60) scale(0.94,1)" font-size="14.3" text-anchor="start">0.5</text>
<line x1="269.80" y1="522.50" x2="276.80" y2="522.50" stroke="#000" stroke-width="1.5"/>
<text transform="translate(283.00,527.30) scale(0.94,1)" font-size="14.3" text-anchor="start">1.0</text>
<line x1="269.80" y1="473.20" x2="276.80" y2="473.20" stroke="#000" stroke-width="1.5"/>
<text transform="translate(283.00,478.00) scale(0.94,1)" font-size="14.3" text-anchor="start">1.5</text>
<line x1="269.80" y1="423.90" x2="276.80" y2="423.90" stroke="#000" stroke-width="1.5"/>
<text transform="translate(283.00,428.70) scale(0.94,1)" font-size="14.3" text-anchor="start">2.0</text>
<text transform="translate(50.90,651.30) scale(0.94,1)" font-size="14.3" text-anchor="end">0.5</text>
<text transform="translate(50.90,693.80) scale(0.94,1)" font-size="14.3" text-anchor="end">0</text>
<text transform="translate(50.90,736.30) scale(0.94,1)" font-size="14.3" text-anchor="end">−0.5</text>
<text transform="translate(283.00,693.80) scale(0.94,1)" font-size="14.3" text-anchor="start">0</text>
<g stroke="#2c4aa8" stroke-width="0.95" fill="none" stroke-opacity="0.72"><path d="M57.6 502.6V513.8M54.5 502.6H60.7M54.5 513.8H60.7M63.8 494.3V505.5M60.7 494.3H66.9M60.7 505.5H66.9M69.3 492.9V504.1M66.2 492.9H72.4M66.2 504.1H72.4M75.4 485.1V496.3M72.3 485.1H78.5M72.3 496.3H78.5M81.3 485.6V496.8M78.2 485.6H84.4M78.2 496.8H84.4M87.4 487.8V499.0M84.3 487.8H90.5M84.3 499.0H90.5M93.2 495.8V507.0M90.1 495.8H96.3M90.1 507.0H96.3M99.1 485.3V496.5M96.0 485.3H102.2M96.0 496.5H102.2M102.0 502.1V513.3M98.9 502.1H105.1M98.9 513.3H105.1M105.4 498.7V509.9M102.3 498.7H108.5M102.3 509.9H108.5M107.3 494.2V505.6M104.2 494.2H110.4M104.2 505.6H110.4M110.2 501.5V512.9M107.1 501.5H113.3M107.1 512.9H113.3M112.4 500.5V511.9M109.3 500.5H115.5M109.3 511.9H115.5M114.6 488.4V499.8M111.5 488.4H117.7M111.5 499.8H117.7M117.5 497.6V509.0M114.4 497.6H120.6M114.4 509.0H120.6M119.7 511.0V522.4M116.6 511.0H122.8M116.6 522.4H122.8M121.9 504.4V515.8M118.8 504.4H125.0M118.8 515.8H125.0M123.9 508.8V520.2M120.8 508.8H127.0M120.8 520.2H127.0M126.2 513.6V525.0M123.1 513.6H129.3M123.1 525.0H129.3M128.7 514.7V526.1M125.6 514.7H131.8M125.6 526.1H131.8M131.2 523.9V535.3M128.1 523.9H134.3M128.1 535.3H134.3M133.5 519.0V530.4M130.4 519.0H136.6M130.4 530.4H136.6M136.0 529.3V540.7M132.9 529.3H139.1M132.9 540.7H139.1M138.2 527.1V538.5M135.1 527.1H141.3M135.1 538.5H141.3M141.1 546.8V558.2M138.0 546.8H144.2M138.0 558.2H144.2M143.3 548.2V559.6M140.2 548.2H146.4M140.2 559.6H146.4M145.5 541.7V553.1M142.4 541.7H148.6M142.4 553.1H148.6M148.1 539.5V550.9M145.0 539.5H151.2M145.0 550.9H151.2M150.6 551.6V563.0M147.5 551.6H153.7M147.5 563.0H153.7M153.1 550.4V561.8M150.0 550.4H156.2M150.0 561.8H156.2M155.8 551.3V562.7M152.7 551.3H158.9M152.7 562.7H158.9M157.8 555.7V567.1M154.7 555.7H160.9M154.7 567.1H160.9M160.1 557.1V568.5M157.0 557.1H163.2M157.0 568.5H163.2M164.8 573.2V584.6M161.7 573.2H167.9M161.7 584.6H167.9M167.0 567.8V579.2M163.9 567.8H170.1M163.9 579.2H170.1M169.5 574.7V586.1M166.4 574.7H172.6M166.4 586.1H172.6M171.8 579.0V590.4M168.7 579.0H174.9M168.7 590.4H174.9M174.3 571.3V582.7M171.2 571.3H177.4M171.2 582.7H177.4M176.5 573.9V585.3M173.4 573.9H179.6M173.4 585.3H179.6M179.1 582.7V594.1M176.0 582.7H182.2M176.0 594.1H182.2M181.6 576.9V588.3M178.5 576.9H184.7M178.5 588.3H184.7M183.8 575.1V586.5M180.7 575.1H186.9M180.7 586.5H186.9M186.0 582.0V593.4M182.9 582.0H189.1M182.9 593.4H189.1M188.6 587.1V598.5M185.5 587.1H191.7M185.5 598.5H191.7M190.8 581.5V592.9M187.7 581.5H193.9M187.7 592.9H193.9M193.3 590.7V602.1M190.2 590.7H196.4M190.2 602.1H196.4M195.5 596.1V607.5M192.4 596.1H198.6M192.4 607.5H198.6M198.1 600.9V612.3M195.0 600.9H201.2M195.0 612.3H201.2M200.6 590.3V601.7M197.5 590.3H203.7M197.5 601.7H203.7M202.8 595.7V607.3M199.7 595.7H205.9M199.7 607.3H205.9M205.0 598.4V610.0M201.9 598.4H208.1M201.9 610.0H208.1M203.1 607.4V619.0M200.0 607.4H206.2M200.0 619.0H206.2M205.4 608.6V620.2M202.3 608.6H208.5M202.3 620.2H208.5M207.9 615.1V626.7M204.8 615.1H211.0M204.8 626.7H211.0M210.0 613.5V625.1M206.9 613.5H213.1M206.9 625.1H213.1M212.2 611.7V623.3M209.1 611.7H215.3M209.1 623.3H215.3M214.6 616.4V628.0M211.5 616.4H217.7M211.5 628.0H217.7M216.9 620.2V631.8M213.8 620.2H220.0M213.8 631.8H220.0M219.3 617.5V629.1M216.2 617.5H222.4M216.2 629.1H222.4M221.8 616.4V628.0M218.7 616.4H224.9M218.7 628.0H224.9M224.5 613.4V625.0M221.4 613.4H227.6M221.4 625.0H227.6M227.1 613.4V625.0M224.0 613.4H230.2M224.0 625.0H230.2M229.5 613.4V625.0M226.4 613.4H232.6M226.4 625.0H232.6M231.3 607.7V619.3M228.2 607.7H234.4M228.2 619.3H234.4M233.6 612.7V624.3M230.5 612.7H236.7M230.5 624.3H236.7M236.1 619.9V631.5M233.0 619.9H239.2M233.0 631.5H239.2M238.8 614.8V626.4M235.7 614.8H241.9M235.7 626.4H241.9M241.4 614.8V626.4M238.3 614.8H244.5M238.3 626.4H244.5M244.0 616.8V628.4M240.9 616.8H247.1M240.9 628.4H247.1M246.0 618.1V629.7M242.9 618.1H249.1M242.9 629.7H249.1M248.0 616.5V628.1M244.9 616.5H251.1M244.9 628.1H251.1"/></g><g fill="#2c4aa8"><circle cx="57.6" cy="508.2" r="1.9"/><circle cx="63.8" cy="499.9" r="1.9"/><circle cx="69.3" cy="498.5" r="1.9"/><circle cx="75.4" cy="490.7" r="1.9"/><circle cx="81.3" cy="491.2" r="1.9"/><circle cx="87.4" cy="493.4" r="1.9"/><circle cx="93.2" cy="501.4" r="1.9"/><circle cx="99.1" cy="490.9" r="1.9"/><circle cx="102.0" cy="507.7" r="1.9"/><circle cx="105.4" cy="504.3" r="1.9"/><circle cx="107.3" cy="499.9" r="1.9"/><circle cx="110.2" cy="507.2" r="1.9"/><circle cx="112.4" cy="506.2" r="1.9"/><circle cx="114.6" cy="494.1" r="1.9"/><circle cx="117.5" cy="503.3" r="1.9"/><circle cx="119.7" cy="516.7" r="1.9"/><circle cx="121.9" cy="510.1" r="1.9"/><circle cx="123.9" cy="514.5" r="1.9"/><circle cx="126.2" cy="519.3" r="1.9"/><circle cx="128.7" cy="520.4" r="1.9"/><circle cx="131.2" cy="529.6" r="1.9"/><circle cx="133.5" cy="524.7" r="1.9"/><circle cx="136.0" cy="535.0" r="1.9"/><circle cx="138.2" cy="532.8" r="1.9"/><circle cx="141.1" cy="552.5" r="1.9"/><circle cx="143.3" cy="553.9" r="1.9"/><circle cx="145.5" cy="547.4" r="1.9"/><circle cx="148.1" cy="545.2" r="1.9"/><circle cx="150.6" cy="557.3" r="1.9"/><circle cx="153.1" cy="556.1" r="1.9"/><circle cx="155.8" cy="557.0" r="1.9"/><circle cx="157.8" cy="561.4" r="1.9"/><circle cx="160.1" cy="562.8" r="1.9"/><circle cx="164.8" cy="578.9" r="1.9"/><circle cx="167.0" cy="573.5" r="1.9"/><circle cx="169.5" cy="580.4" r="1.9"/><circle cx="171.8" cy="584.7" r="1.9"/><circle cx="174.3" cy="577.0" r="1.9"/><circle cx="176.5" cy="579.6" r="1.9"/><circle cx="179.1" cy="588.4" r="1.9"/><circle cx="181.6" cy="582.6" r="1.9"/><circle cx="183.8" cy="580.8" r="1.9"/><circle cx="186.0" cy="587.7" r="1.9"/><circle cx="188.6" cy="592.8" r="1.9"/><circle cx="190.8" cy="587.2" r="1.9"/><circle cx="193.3" cy="596.4" r="1.9"/><circle cx="195.5" cy="601.8" r="1.9"/><circle cx="198.1" cy="606.6" r="1.9"/><circle cx="200.6" cy="596.0" r="1.9"/><circle cx="202.8" cy="601.5" r="1.9"/><circle cx="205.0" cy="604.2" r="1.9"/><circle cx="203.1" cy="613.2" r="1.9"/><circle cx="205.4" cy="614.4" r="1.9"/><circle cx="207.9" cy="620.9" r="1.9"/><circle cx="210.0" cy="619.3" r="1.9"/><circle cx="212.2" cy="617.5" r="1.9"/><circle cx="214.6" cy="622.2" r="1.9"/><circle cx="216.9" cy="626.0" r="1.9"/><circle cx="219.3" cy="623.3" r="1.9"/><circle cx="221.8" cy="622.2" r="1.9"/><circle cx="224.5" cy="619.2" r="1.9"/><circle cx="227.1" cy="619.2" r="1.9"/><circle cx="229.5" cy="619.2" r="1.9"/><circle cx="231.3" cy="613.5" r="1.9"/><circle cx="233.6" cy="618.5" r="1.9"/><circle cx="236.1" cy="625.7" r="1.9"/><circle cx="238.8" cy="620.6" r="1.9"/><circle cx="241.4" cy="620.6" r="1.9"/><circle cx="244.0" cy="622.6" r="1.9"/><circle cx="246.0" cy="623.9" r="1.9"/><circle cx="248.0" cy="622.3" r="1.9"/></g>
<g stroke="#2c4aa8" stroke-width="0.95" fill="none" stroke-opacity="0.72"><path d="M58.0 678.6V690.2M54.9 678.6H61.1M54.9 690.2H61.1M63.9 683.2V694.8M60.8 683.2H67.0M60.8 694.8H67.0M69.8 683.2V694.8M66.7 683.2H72.9M66.7 694.8H72.9M75.6 684.2V695.8M72.5 684.2H78.7M72.5 695.8H78.7M81.5 688.7V700.3M78.4 688.7H84.6M78.4 700.3H84.6M87.7 678.6V690.2M84.6 678.6H90.8M84.6 690.2H90.8M93.6 679.8V691.4M90.5 679.8H96.7M90.5 691.4H96.7M99.5 683.2V694.8M96.4 683.2H102.6M96.4 694.8H102.6M102.5 684.9V696.5M99.4 684.9H105.6M99.4 696.5H105.6M105.4 678.2V689.8M102.3 678.2H108.5M102.3 689.8H108.5M107.9 675.7V687.5M104.8 675.7H111.0M104.8 687.5H111.0M110.9 676.0V687.8M107.8 676.0H114.0M107.8 687.8H114.0M112.9 682.7V694.5M109.8 682.7H116.0M109.8 694.5H116.0M115.1 675.2V687.0M112.0 675.2H118.2M112.0 687.0H118.2M117.6 667.3V679.1M114.5 667.3H120.7M114.5 679.1H120.7M119.6 671.0V682.8M116.5 671.0H122.7M116.5 682.8H122.7M122.1 684.1V695.9M119.0 684.1H125.2M119.0 695.9H125.2M124.7 673.0V684.8M121.6 673.0H127.8M121.6 684.8H127.8M127.2 676.9V688.7M124.1 676.9H130.3M124.1 688.7H130.3M129.7 671.3V683.1M126.6 671.3H132.8M126.6 683.1H132.8M132.2 670.2V682.0M129.1 670.2H135.3M129.1 682.0H135.3M134.2 669.0V680.8M131.1 669.0H137.3M131.1 680.8H137.3M136.4 673.0V684.8M133.3 673.0H139.5M133.3 684.8H139.5M138.9 678.5V690.3M135.8 678.5H142.0M135.8 690.3H142.0M141.5 671.3V683.1M138.4 671.3H144.6M138.4 683.1H144.6M143.6 677.0V708.6M140.5 677.0H146.7M140.5 708.6H146.7M148.7 668.0V679.8M145.6 668.0H151.8M145.6 679.8H151.8M150.7 679.4V691.2M147.6 679.4H153.8M147.6 691.2H153.8M153.2 670.5V682.3M150.1 670.5H156.3M150.1 682.3H156.3M155.7 670.7V682.5M152.6 670.7H158.8M152.6 682.5H158.8M157.7 663.4V675.2M154.6 663.4H160.8M154.6 675.2H160.8M160.4 679.4V691.2M157.3 679.4H163.5M157.3 691.2H163.5M165.0 671.0V682.8M161.9 671.0H168.1M161.9 682.8H168.1M167.2 684.8V696.6M164.1 684.8H170.3M164.1 696.6H170.3M167.2 694.2V706.0M164.1 694.2H170.3M164.1 706.0H170.3M169.7 668.0V679.8M166.6 668.0H172.8M166.6 679.8H172.8M172.1 679.7V691.5M169.0 679.7H175.2M169.0 691.5H175.2M174.8 675.2V687.0M171.7 675.2H177.9M171.7 687.0H177.9M177.1 673.5V685.3M174.0 673.5H180.2M174.0 685.3H180.2M179.3 672.3V684.1M176.2 672.3H182.4M176.2 684.1H182.4M181.8 686.6V698.4M178.7 686.6H184.9M178.7 698.4H184.9M184.3 686.4V698.2M181.2 686.4H187.4M181.2 698.2H187.4M186.5 685.8V697.6M183.4 685.8H189.6M183.4 697.6H189.6M188.9 676.4V688.2M185.8 676.4H192.0M185.8 688.2H192.0M191.6 682.4V694.2M188.5 682.4H194.7M188.5 694.2H194.7M193.9 681.9V693.7M190.8 681.9H197.0M190.8 693.7H197.0M196.6 681.9V693.7M193.5 681.9H199.7M193.5 693.7H199.7M198.9 681.4V693.2M195.8 681.4H202.0M195.8 693.2H202.0M201.1 682.4V694.2M198.0 682.4H204.2M198.0 694.2H204.2M203.3 678.0V690.0M200.2 678.0H206.4M200.2 690.0H206.4M205.3 683.0V695.0M202.2 683.0H208.4M202.2 695.0H208.4M207.8 679.3V691.3M204.7 679.3H210.9M204.7 691.3H210.9M210.0 680.6V692.6M206.9 680.6H213.1M206.9 692.6H213.1M212.4 679.0V691.0M209.3 679.0H215.5M209.3 691.0H215.5M215.1 684.0V696.0M212.0 684.0H218.2M212.0 696.0H218.2M217.4 675.1V687.1M214.3 675.1H220.5M214.3 687.1H220.5M220.1 682.3V694.3M217.0 682.3H223.2M217.0 694.3H223.2M222.4 679.6V691.6M219.3 679.6H225.5M219.3 691.6H225.5M224.6 680.6V692.6M221.5 680.6H227.7M221.5 692.6H227.7M227.1 684.7V696.7M224.0 684.7H230.2M224.0 696.7H230.2M229.7 684.0V696.0M226.6 684.0H232.8M226.6 696.0H232.8M231.8 683.5V695.5M228.7 683.5H234.9M228.7 695.5H234.9M234.2 686.8V698.8M231.1 686.8H237.3M231.1 698.8H237.3M236.4 691.4V703.4M233.3 691.4H239.5M233.3 703.4H239.5M238.9 692.4V704.4M235.8 692.4H242.0M235.8 704.4H242.0M241.4 686.8V698.8M238.3 686.8H244.5M238.3 698.8H244.5M243.6 696.8V714.8M240.5 696.8H246.7M240.5 714.8H246.7M245.9 689.0V701.0M242.8 689.0H249.0M242.8 701.0H249.0M248.1 696.1V708.1M245.0 696.1H251.2M245.0 708.1H251.2"/></g><g fill="#2c4aa8"><circle cx="58.0" cy="684.4" r="1.9"/><circle cx="63.9" cy="689.0" r="1.9"/><circle cx="69.8" cy="689.0" r="1.9"/><circle cx="75.6" cy="690.0" r="1.9"/><circle cx="81.5" cy="694.5" r="1.9"/><circle cx="87.7" cy="684.4" r="1.9"/><circle cx="93.6" cy="685.6" r="1.9"/><circle cx="99.5" cy="689.0" r="1.9"/><circle cx="102.5" cy="690.7" r="1.9"/><circle cx="105.4" cy="684.0" r="1.9"/><circle cx="107.9" cy="681.6" r="1.9"/><circle cx="110.9" cy="681.9" r="1.9"/><circle cx="112.9" cy="688.6" r="1.9"/><circle cx="115.1" cy="681.1" r="1.9"/><circle cx="117.6" cy="673.2" r="1.9"/><circle cx="119.6" cy="676.9" r="1.9"/><circle cx="122.1" cy="690.0" r="1.9"/><circle cx="124.7" cy="678.9" r="1.9"/><circle cx="127.2" cy="682.8" r="1.9"/><circle cx="129.7" cy="677.2" r="1.9"/><circle cx="132.2" cy="676.1" r="1.9"/><circle cx="134.2" cy="674.9" r="1.9"/><circle cx="136.4" cy="678.9" r="1.9"/><circle cx="138.9" cy="684.4" r="1.9"/><circle cx="141.5" cy="677.2" r="1.9"/><circle cx="143.6" cy="692.8" r="1.9"/><circle cx="148.7" cy="673.9" r="1.9"/><circle cx="150.7" cy="685.3" r="1.9"/><circle cx="153.2" cy="676.4" r="1.9"/><circle cx="155.7" cy="676.6" r="1.9"/><circle cx="157.7" cy="669.3" r="1.9"/><circle cx="160.4" cy="685.3" r="1.9"/><circle cx="165.0" cy="676.9" r="1.9"/><circle cx="167.2" cy="690.7" r="1.9"/><circle cx="167.2" cy="700.1" r="1.9"/><circle cx="169.7" cy="673.9" r="1.9"/><circle cx="172.1" cy="685.6" r="1.9"/><circle cx="174.8" cy="681.1" r="1.9"/><circle cx="177.1" cy="679.4" r="1.9"/><circle cx="179.3" cy="678.2" r="1.9"/><circle cx="181.8" cy="692.5" r="1.9"/><circle cx="184.3" cy="692.3" r="1.9"/><circle cx="186.5" cy="691.7" r="1.9"/><circle cx="188.9" cy="682.3" r="1.9"/><circle cx="191.6" cy="688.3" r="1.9"/><circle cx="193.9" cy="687.8" r="1.9"/><circle cx="196.6" cy="687.8" r="1.9"/><circle cx="198.9" cy="687.3" r="1.9"/><circle cx="201.1" cy="688.3" r="1.9"/><circle cx="203.3" cy="684.0" r="1.9"/><circle cx="205.3" cy="689.0" r="1.9"/><circle cx="207.8" cy="685.3" r="1.9"/><circle cx="210.0" cy="686.6" r="1.9"/><circle cx="212.4" cy="685.0" r="1.9"/><circle cx="215.1" cy="690.0" r="1.9"/><circle cx="217.4" cy="681.1" r="1.9"/><circle cx="220.1" cy="688.3" r="1.9"/><circle cx="222.4" cy="685.6" r="1.9"/><circle cx="224.6" cy="686.6" r="1.9"/><circle cx="227.1" cy="690.7" r="1.9"/><circle cx="229.7" cy="690.0" r="1.9"/><circle cx="231.8" cy="689.5" r="1.9"/><circle cx="234.2" cy="692.8" r="1.9"/><circle cx="236.4" cy="697.4" r="1.9"/><circle cx="238.9" cy="698.4" r="1.9"/><circle cx="241.4" cy="692.8" r="1.9"/><circle cx="243.6" cy="705.8" r="1.9"/><circle cx="245.9" cy="695.0" r="1.9"/><circle cx="248.1" cy="702.1" r="1.9"/></g>
<text transform="translate(57.90,748.30) scale(0.94,1)" font-size="14.3" text-anchor="middle">100</text>
<text transform="translate(117.30,748.30) scale(0.94,1)" font-size="14.3" text-anchor="middle">150</text>
<text transform="translate(176.70,748.30) scale(0.94,1)" font-size="14.3" text-anchor="middle">200</text>
<text transform="translate(236.10,748.30) scale(0.94,1)" font-size="14.3" text-anchor="middle">250</text>
<text transform="translate(167.60,767.80) scale(0.91,1)" font-size="15" text-anchor="middle"><tspan font-style="italic">T</tspan> (K)</text>
<text transform="translate(13.00,538.10) rotate(-90) scale(1.0,1)" font-size="14.3" text-anchor="start">2<tspan font-style="italic">χ</tspan><tspan font-size="9.3" font-style="italic" dy="3.3">ab</tspan><tspan dy="-3.3"> (10</tspan><tspan font-size="9.3" dy="-6.2">−7</tspan><tspan dy="6.2">)</tspan></text>
<text transform="translate(13.90,733.70) rotate(-90) scale(0.97,1)" font-size="14.3" text-anchor="start"><tspan font-style="italic">χ</tspan><tspan font-size="9.3" font-style="italic" dy="3.3">aa</tspan><tspan dy="-3.3"> − </tspan><tspan font-style="italic">χ</tspan><tspan font-size="9.3" font-style="italic" dy="3.3">bb</tspan><tspan dy="-3.3"> (10</tspan><tspan font-size="9.3" dy="-6.2">−7</tspan><tspan dy="6.2">)</tspan></text>
<text transform="translate(323.90,568.50) rotate(-90) scale(0.99,1)" font-size="14.3" text-anchor="start">2<tspan font-style="italic">χ</tspan><tspan font-size="9.3" font-style="italic" dy="3.3">ab</tspan><tspan dy="-3.3"> (10</tspan><tspan font-size="9.3" dy="-6.2">−11</tspan><tspan dy="6.2"> m</tspan><tspan font-size="9.3" dy="-6.2">3</tspan><tspan dy="6.2"> mol</tspan><tspan font-size="9.3" dy="-6.2">−1</tspan><tspan dy="6.2">)</tspan></text>
<text transform="translate(324.50,729.80) rotate(-90) scale(0.94,1)" font-size="14.3" text-anchor="start"><tspan font-style="italic">χ</tspan><tspan font-size="9.3" font-style="italic" dy="3.3">aa</tspan><tspan dy="-3.3"> − </tspan><tspan font-style="italic">χ</tspan><tspan font-size="9.3" font-style="italic" dy="3.3">bb</tspan><tspan dy="-3.3"> (10</tspan><tspan font-size="9.3" dy="-6.2">−11</tspan><tspan dy="6.2"> m</tspan><tspan font-size="9.3" dy="-6.2">3</tspan><tspan dy="6.2"> mol</tspan><tspan font-size="9.3" dy="-6.2">−1</tspan><tspan dy="6.2">)</tspan></text>
<text transform="translate(198.20,435.80) scale(0.94,1)" font-size="14.3" text-anchor="start"><tspan font-style="italic">T</tspan><tspan font-size="10.5" dy="3.6">c</tspan><tspan dy="-3.6"> = 94 K</tspan></text>
<text transform="translate(198.50,460.30) scale(0.94,1)" font-size="14.3" text-anchor="start"><tspan font-style="italic">p</tspan> ≈ 0.125</text>
<text transform="translate(202.10,546.50) scale(0.94,1)" font-size="14.3" text-anchor="start"><tspan font-style="italic" font-size="14.8">T</tspan><tspan font-size="11.5" dy="-1.6" dx="1.6">*</tspan></text>
<line x1="209.30" y1="550.20" x2="209.30" y2="597.80" stroke="#111" stroke-width="1.2"/>
<path d="M209.30 603.80L205.40 595.00L209.30 597.40L213.20 595.00Z" fill="#000"/>
<line x1="114.20" y1="530.40" x2="114.20" y2="573.40" stroke="#222" stroke-width="1.4" stroke-dasharray="3 3"/>
<path d="M114.20 519.90L110.30 528.70L114.20 526.50L118.10 528.70Z" fill="#000"/>
<clipPath id="dc"><rect x="413.25" y="408.9" width="214.70000000000005" height="322.5"/></clipPath>
<line x1="413.25" y1="689.40" x2="627.95" y2="689.40" stroke="#000" stroke-width="1.5"/>
<rect x="413.25" y="408.90" width="214.70" height="322.50" fill="none" stroke="#000" stroke-width="1.5"/>
<g stroke="#e0261d" stroke-width="0.95" fill="none" stroke-opacity="0.72"><path d="M413.0 444.2V464.3M409.9 444.2H416.1M409.9 464.3H416.1M418.6 431.2V451.4M415.5 431.2H421.7M415.5 451.4H421.7M423.8 428.8V449.2M420.7 428.8H426.9M420.7 449.2H426.9M423.8 434.0V454.4M420.7 434.0H426.9M420.7 454.4H426.9M429.1 419.4V439.9M426.0 419.4H432.2M426.0 439.9H432.2M434.5 431.0V451.6M431.4 431.0H437.6M431.4 451.6H437.6M439.9 425.1V445.8M436.8 425.1H443.0M436.8 445.8H443.0M445.3 436.5V457.3M442.2 436.5H448.4M442.2 457.3H448.4M445.3 445.6V466.4M442.2 445.6H448.4M442.2 466.4H448.4M450.8 452.3V473.2M447.7 452.3H453.9M447.7 473.2H453.9M456.2 465.5V486.5M453.1 465.5H459.3M453.1 486.5H459.3M461.4 470.0V491.1M458.3 470.0H464.5M458.3 491.1H464.5M466.9 455.9V477.1M463.8 455.9H470.0M463.8 477.1H470.0M466.9 468.8V490.0M463.8 468.8H470.0M463.8 490.0H470.0M472.1 462.2V483.5M469.0 462.2H475.2M469.0 483.5H475.2M469.5 490.2V511.5M466.4 490.2H472.6M466.4 511.5H472.6M474.8 494.1V515.4M471.7 494.1H477.9M471.7 515.4H477.9M477.7 494.0V515.4M474.6 494.0H480.8M474.6 515.4H480.8M480.2 486.5V508.0M477.1 486.5H483.3M477.1 508.0H483.3M483.0 495.4V516.9M479.9 495.4H486.1M479.9 516.9H486.1M485.6 517.0V538.5M482.5 517.0H488.7M482.5 538.5H488.7M488.5 518.1V539.7M485.4 518.1H491.6M485.4 539.7H491.6M488.5 523.3V544.9M485.4 523.3H491.6M485.4 544.9H491.6M493.6 542.6V564.4M490.5 542.6H496.7M490.5 564.4H496.7M496.2 538.4V560.2M493.1 538.4H499.3M493.1 560.2H499.3M498.9 545.0V566.9M495.8 545.0H502.0M495.8 566.9H502.0M498.9 554.1V575.9M495.8 554.1H502.0M495.8 575.9H502.0M501.5 557.1V579.0M498.4 557.1H504.6M498.4 579.0H504.6M504.5 562.2V584.2M501.4 562.2H507.6M501.4 584.2H507.6M509.7 578.0V600.0M506.6 578.0H512.8M506.6 600.0H512.8M506.8 586.9V608.9M503.7 586.9H509.9M503.7 608.9H509.9M509.7 590.5V612.6M506.6 590.5H512.8M506.6 612.6H512.8M512.3 593.9V616.0M509.2 593.9H515.4M509.2 616.0H515.4M515.1 585.4V607.6M512.0 585.4H518.2M512.0 607.6H518.2M517.8 598.9V621.1M514.7 598.9H520.9M514.7 621.1H520.9M520.4 605.8V628.0M517.3 605.8H523.5M517.3 628.0H523.5M523.0 603.0V625.3M519.9 603.0H526.1M519.9 625.3H526.1M531.2 601.5V624.0M528.1 601.5H534.3M528.1 624.0H534.3M526.0 614.1V636.4M522.9 614.1H529.1M522.9 636.4H529.1M528.6 613.5V635.9M525.5 613.5H531.7M525.5 635.9H531.7M531.2 613.4V635.9M528.1 613.4H534.3M528.1 635.9H534.3M533.9 620.0V642.6M530.8 620.0H537.0M530.8 642.6H537.0M536.6 623.5V646.0M533.5 623.5H539.7M533.5 646.0H539.7M539.2 628.6V651.2M536.1 628.6H542.3M536.1 651.2H542.3M542.1 629.7V652.4M539.0 629.7H545.2M539.0 652.4H545.2M542.2 650.2V672.8M539.1 650.2H545.3M539.1 672.8H545.3M547.5 653.3V676.1M544.4 653.3H550.6M544.4 676.1H550.6M550.0 639.0V661.9M546.9 639.0H553.1M546.9 661.9H553.1M552.8 635.7V658.6M549.7 635.7H555.9M549.7 658.6H555.9M552.7 660.1V683.0M549.6 660.1H555.8M549.6 683.0H555.8M555.4 648.6V671.5M552.3 648.6H558.5M552.3 671.5H558.5M558.4 655.6V678.6M555.3 655.6H561.5M555.3 678.6H561.5M561.1 655.6V678.6M558.0 655.6H564.2M558.0 678.6H564.2M563.7 654.8V678.0M560.6 654.8H566.8M560.6 678.0H566.8M566.3 664.0V687.2M563.2 664.0H569.4M563.2 687.2H569.4M568.9 665.7V688.9M565.8 665.7H572.0M565.8 688.9H572.0M563.7 677.8V701.0M560.6 677.8H566.8M560.6 701.0H566.8M569.0 676.2V699.4M565.9 676.2H572.1M565.9 699.4H572.1M571.6 670.3V693.6M568.5 670.3H574.7M568.5 693.6H574.7M574.2 668.4V691.7M571.1 668.4H577.3M571.1 691.7H577.3M574.2 678.7V702.1M571.1 678.7H577.3M571.1 702.1H577.3M574.2 688.5V711.9M571.1 688.5H577.3M571.1 711.9H577.3M577.1 693.8V717.2M574.0 693.8H580.2M574.0 717.2H580.2M577.1 673.0V696.3M574.0 673.0H580.2M574.0 696.3H580.2M579.9 678.7V702.1M576.8 678.7H583.0M576.8 702.1H583.0M579.9 684.3V707.7M576.8 684.3H583.0M576.8 707.7H583.0M582.5 683.0V706.5M579.4 683.0H585.6M579.4 706.5H585.6M585.1 678.6V702.2M582.0 678.6H588.2M582.0 702.2H588.2M585.1 691.0V714.5M582.0 691.0H588.2M582.0 714.5H588.2M587.6 676.7V700.3M584.5 676.7H590.7M584.5 700.3H590.7M590.4 682.9V706.5M587.3 682.9H593.5M587.3 706.5H593.5M593.1 674.5V698.2M590.0 674.5H596.2M590.0 698.2H596.2M595.7 673.6V697.4M592.6 673.6H598.8M592.6 697.4H598.8M595.7 690.5V714.2M592.6 690.5H598.8M592.6 714.2H598.8M598.4 681.7V705.5M595.3 681.7H601.5M595.3 705.5H601.5M601.1 677.5V701.3M598.0 677.5H604.2M598.0 701.3H604.2"/></g><g fill="#e0261d"><circle cx="413.0" cy="454.3" r="1.9"/><circle cx="418.6" cy="441.3" r="1.9"/><circle cx="423.8" cy="439.0" r="1.9"/><circle cx="423.8" cy="444.2" r="1.9"/><circle cx="429.1" cy="429.7" r="1.9"/><circle cx="434.5" cy="441.3" r="1.9"/><circle cx="439.9" cy="435.4" r="1.9"/><circle cx="445.3" cy="446.9" r="1.9"/><circle cx="445.3" cy="456.0" r="1.9"/><circle cx="450.8" cy="462.7" r="1.9"/><circle cx="456.2" cy="476.0" r="1.9"/><circle cx="461.4" cy="480.6" r="1.9"/><circle cx="466.9" cy="466.5" r="1.9"/><circle cx="466.9" cy="479.4" r="1.9"/><circle cx="472.1" cy="472.8" r="1.9"/><circle cx="469.5" cy="500.9" r="1.9"/><circle cx="474.8" cy="504.7" r="1.9"/><circle cx="477.7" cy="504.7" r="1.9"/><circle cx="480.2" cy="497.3" r="1.9"/><circle cx="483.0" cy="506.2" r="1.9"/><circle cx="485.6" cy="527.8" r="1.9"/><circle cx="488.5" cy="528.9" r="1.9"/><circle cx="488.5" cy="534.1" r="1.9"/><circle cx="493.6" cy="553.5" r="1.9"/><circle cx="496.2" cy="549.3" r="1.9"/><circle cx="498.9" cy="555.9" r="1.9"/><circle cx="498.9" cy="565.0" r="1.9"/><circle cx="501.5" cy="568.0" r="1.9"/><circle cx="504.5" cy="573.2" r="1.9"/><circle cx="509.7" cy="589.0" r="1.9"/><circle cx="506.8" cy="597.9" r="1.9"/><circle cx="509.7" cy="601.5" r="1.9"/><circle cx="512.3" cy="605.0" r="1.9"/><circle cx="515.1" cy="596.5" r="1.9"/><circle cx="517.8" cy="610.0" r="1.9"/><circle cx="520.4" cy="616.9" r="1.9"/><circle cx="523.0" cy="614.2" r="1.9"/><circle cx="531.2" cy="612.7" r="1.9"/><circle cx="526.0" cy="625.3" r="1.9"/><circle cx="528.6" cy="624.7" r="1.9"/><circle cx="531.2" cy="624.7" r="1.9"/><circle cx="533.9" cy="631.3" r="1.9"/><circle cx="536.6" cy="634.7" r="1.9"/><circle cx="539.2" cy="639.9" r="1.9"/><circle cx="542.1" cy="641.1" r="1.9"/><circle cx="542.2" cy="661.5" r="1.9"/><circle cx="547.5" cy="664.7" r="1.9"/><circle cx="550.0" cy="650.4" r="1.9"/><circle cx="552.8" cy="647.1" r="1.9"/><circle cx="552.7" cy="671.6" r="1.9"/><circle cx="555.4" cy="660.1" r="1.9"/><circle cx="558.4" cy="667.1" r="1.9"/><circle cx="561.1" cy="667.1" r="1.9"/><circle cx="563.7" cy="666.4" r="1.9"/><circle cx="566.3" cy="675.6" r="1.9"/><circle cx="568.9" cy="677.3" r="1.9"/><circle cx="563.7" cy="689.4" r="1.9"/><circle cx="569.0" cy="687.8" r="1.9"/><circle cx="571.6" cy="681.9" r="1.9"/><circle cx="574.2" cy="680.1" r="1.9"/><circle cx="574.2" cy="690.4" r="1.9"/><circle cx="574.2" cy="700.2" r="1.9"/><circle cx="577.1" cy="705.5" r="1.9"/><circle cx="577.1" cy="684.7" r="1.9"/><circle cx="579.9" cy="690.4" r="1.9"/><circle cx="579.9" cy="696.0" r="1.9"/><circle cx="582.5" cy="694.7" r="1.9"/><circle cx="585.1" cy="690.4" r="1.9"/><circle cx="585.1" cy="702.8" r="1.9"/><circle cx="587.6" cy="688.5" r="1.9"/><circle cx="590.4" cy="694.7" r="1.9"/><circle cx="593.1" cy="686.4" r="1.9"/><circle cx="595.7" cy="685.5" r="1.9"/><circle cx="595.7" cy="702.3" r="1.9"/><circle cx="598.4" cy="693.6" r="1.9"/><circle cx="601.1" cy="689.4" r="1.9"/></g>
<g stroke="#2f9a2a" stroke-width="0.95" fill="none" stroke-opacity="0.72"><path d="M417.4 457.6V474.2M414.3 457.6H420.5M414.3 474.2H420.5M420.2 456.3V472.9M417.1 456.3H423.3M417.1 472.9H423.3M423.4 453.6V470.2M420.3 453.6H426.5M420.3 470.2H426.5M426.1 447.9V464.6M423.0 447.9H429.2M423.0 464.6H429.2M428.8 460.3V477.0M425.7 460.3H431.9M425.7 477.0H431.9M431.7 449.4V466.1M428.6 449.4H434.8M428.6 466.1H434.8M434.4 450.2V467.0M431.3 450.2H437.5M431.3 467.0H437.5M437.1 450.1V467.0M434.0 450.1H440.2M434.0 467.0H440.2M440.1 457.4V474.3M437.0 457.4H443.2M437.0 474.3H443.2M442.9 462.8V479.7M439.8 462.8H446.0M439.8 479.7H446.0M445.6 472.8V489.8M442.5 472.8H448.7M442.5 489.8H448.7M448.4 468.2V485.3M445.3 468.2H451.5M445.3 485.3H451.5M451.2 466.2V483.3M448.1 466.2H454.3M448.1 483.3H454.3M453.9 481.4V498.6M450.8 481.4H457.0M450.8 498.6H457.0M456.6 481.4V498.6M453.5 481.4H459.7M453.5 498.6H459.7M459.3 489.8V507.0M456.2 489.8H462.4M456.2 507.0H462.4M462.2 486.7V504.0M459.1 486.7H465.3M459.1 504.0H465.3M465.3 495.4V512.7M462.2 495.4H468.4M462.2 512.7H468.4M468.0 502.3V519.7M464.9 502.3H471.1M464.9 519.7H471.1M470.8 504.2V521.6M467.7 504.2H473.9M467.7 521.6H473.9M473.6 504.2V521.6M470.5 504.2H476.7M470.5 521.6H476.7M473.6 514.5V532.0M470.5 514.5H476.7M470.5 532.0H476.7M476.6 497.8V515.3M473.5 497.8H479.7M473.5 515.3H479.7M479.3 498.3V515.9M476.2 498.3H482.4M476.2 515.9H482.4M479.3 525.5V543.1M476.2 525.5H482.4M476.2 543.1H482.4M482.0 512.8V530.4M478.9 512.8H485.1M478.9 530.4H485.1M484.9 517.4V535.1M481.8 517.4H488.0M481.8 535.1H488.0M487.9 534.0V551.7M484.8 534.0H491.0M484.8 551.7H491.0M490.6 540.3V558.0M487.5 540.3H493.7M487.5 558.0H493.7M493.3 540.3V558.1M490.2 540.3H496.4M490.2 558.1H496.4M496.1 556.1V573.9M493.0 556.1H499.2M493.0 573.9H499.2M498.9 564.1V582.0M495.8 564.1H502.0M495.8 582.0H502.0M501.7 558.0V575.9M498.6 558.0H504.8M498.6 575.9H504.8M504.5 571.5V589.5M501.4 571.5H507.6M501.4 589.5H507.6M507.2 574.9V592.9M504.1 574.9H510.3M504.1 592.9H510.3M510.3 569.9V588.0M507.2 569.9H513.4M507.2 588.0H513.4M513.1 582.8V601.0M510.0 582.8H516.2M510.0 601.0H516.2M515.9 591.9V610.1M512.8 591.9H519.0M512.8 610.1H519.0M518.7 597.6V615.8M515.6 597.6H521.8M515.6 615.8H521.8M521.4 604.6V622.8M518.3 604.6H524.5M518.3 622.8H524.5M524.1 613.6V632.0M521.0 613.6H527.2M521.0 632.0H527.2M526.9 612.4V630.7M523.8 612.4H530.0M523.8 630.7H530.0M529.9 615.5V633.9M526.8 615.5H533.0M526.8 633.9H533.0M532.7 632.0V650.5M529.6 632.0H535.8M529.6 650.5H535.8M535.4 625.5V644.0M532.3 625.5H538.5M532.3 644.0H538.5M538.2 627.0V645.6M535.1 627.0H541.3M535.1 645.6H541.3M540.9 636.0V654.6M537.8 636.0H544.0M537.8 654.6H544.0M543.6 634.3V652.9M540.5 634.3H546.7M540.5 652.9H546.7M546.5 638.4V657.1M543.4 638.4H549.6M543.4 657.1H549.6M546.5 642.4V661.1M543.4 642.4H549.6M543.4 661.1H549.6M549.3 640.0V658.8M546.2 640.0H552.4M546.2 658.8H552.4M552.2 636.3V655.1M549.1 636.3H555.3M549.1 655.1H555.3M554.9 647.9V666.7M551.8 647.9H558.0M551.8 666.7H558.0M557.7 661.8V680.6M554.6 661.8H560.8M554.6 680.6H560.8M560.4 650.2V669.1M557.3 650.2H563.5M557.3 669.1H563.5M563.1 662.0V681.0M560.0 662.0H566.2M560.0 681.0H566.2M565.9 670.4V689.4M562.8 670.4H569.0M562.8 689.4H569.0M568.7 666.4V685.4M565.6 666.4H571.8M565.6 685.4H571.8M568.7 671.9V690.9M565.6 671.9H571.8M565.6 690.9H571.8M571.4 680.8V699.9M568.3 680.8H574.5M568.3 699.9H574.5M574.1 672.4V691.5M571.0 672.4H577.2M571.0 691.5H577.2M574.1 680.8V699.9M571.0 680.8H577.2M571.0 699.9H577.2M576.9 678.4V697.6M573.8 678.4H580.0M573.8 697.6H580.0M576.9 691.9V711.1M573.8 691.9H580.0M573.8 711.1H580.0M579.6 675.8V695.0M576.5 675.8H582.7M576.5 695.0H582.7M579.6 686.4V705.6M576.5 686.4H582.7M576.5 705.6H582.7M582.4 673.7V693.0M579.3 673.7H585.5M579.3 693.0H585.5M582.4 690.4V709.7M579.3 690.4H585.5M579.3 709.7H585.5M585.2 675.7V695.1M582.1 675.7H588.3M582.1 695.1H588.3M585.2 686.4V705.7M582.1 686.4H588.3M582.1 705.7H588.3M588.3 673.6V693.0M585.2 673.6H591.4M585.2 693.0H591.4M591.1 678.7V698.1M588.0 678.7H594.2M588.0 698.1H594.2M593.8 676.2V695.7M590.7 676.2H596.9M590.7 695.7H596.9M596.6 674.3V693.8M593.5 674.3H599.7M593.5 693.8H599.7M599.3 683.6V703.2M596.2 683.6H602.4M596.2 703.2H602.4M602.0 687.6V707.2M598.9 687.6H605.1M598.9 707.2H605.1M604.8 681.6V701.3M601.7 681.6H607.9M601.7 701.3H607.9M607.6 683.6V703.2M604.5 683.6H610.7M604.5 703.2H610.7M610.3 686.6V706.3M607.2 686.6H613.4M607.2 706.3H613.4M613.6 689.6V709.4M610.5 689.6H616.7M610.5 709.4H616.7M613.6 679.5V699.3M610.5 679.5H616.7M610.5 699.3H616.7M616.8 673.4V693.3M613.7 673.4H619.9M613.7 693.3H619.9"/></g><g fill="#2f9a2a"><circle cx="417.4" cy="465.9" r="1.9"/><circle cx="420.2" cy="464.6" r="1.9"/><circle cx="423.4" cy="461.9" r="1.9"/><circle cx="426.1" cy="456.2" r="1.9"/><circle cx="428.8" cy="468.6" r="1.9"/><circle cx="431.7" cy="457.7" r="1.9"/><circle cx="434.4" cy="458.6" r="1.9"/><circle cx="437.1" cy="458.6" r="1.9"/><circle cx="440.1" cy="465.9" r="1.9"/><circle cx="442.9" cy="471.3" r="1.9"/><circle cx="445.6" cy="481.3" r="1.9"/><circle cx="448.4" cy="476.8" r="1.9"/><circle cx="451.2" cy="474.7" r="1.9"/><circle cx="453.9" cy="490.0" r="1.9"/><circle cx="456.6" cy="490.0" r="1.9"/><circle cx="459.3" cy="498.4" r="1.9"/><circle cx="462.2" cy="495.4" r="1.9"/><circle cx="465.3" cy="504.1" r="1.9"/><circle cx="468.0" cy="511.0" r="1.9"/><circle cx="470.8" cy="512.9" r="1.9"/><circle cx="473.6" cy="512.9" r="1.9"/><circle cx="473.6" cy="523.2" r="1.9"/><circle cx="476.6" cy="506.6" r="1.9"/><circle cx="479.3" cy="507.1" r="1.9"/><circle cx="479.3" cy="534.3" r="1.9"/><circle cx="482.0" cy="521.6" r="1.9"/><circle cx="484.9" cy="526.3" r="1.9"/><circle cx="487.9" cy="542.8" r="1.9"/><circle cx="490.6" cy="549.2" r="1.9"/><circle cx="493.3" cy="549.2" r="1.9"/><circle cx="496.1" cy="565.0" r="1.9"/><circle cx="498.9" cy="573.0" r="1.9"/><circle cx="501.7" cy="567.0" r="1.9"/><circle cx="504.5" cy="580.5" r="1.9"/><circle cx="507.2" cy="583.9" r="1.9"/><circle cx="510.3" cy="578.9" r="1.9"/><circle cx="513.1" cy="591.9" r="1.9"/><circle cx="515.9" cy="601.0" r="1.9"/><circle cx="518.7" cy="606.7" r="1.9"/><circle cx="521.4" cy="613.7" r="1.9"/><circle cx="524.1" cy="622.8" r="1.9"/><circle cx="526.9" cy="621.6" r="1.9"/><circle cx="529.9" cy="624.7" r="1.9"/><circle cx="532.7" cy="641.3" r="1.9"/><circle cx="535.4" cy="634.8" r="1.9"/><circle cx="538.2" cy="636.3" r="1.9"/><circle cx="540.9" cy="645.3" r="1.9"/><circle cx="543.6" cy="643.6" r="1.9"/><circle cx="546.5" cy="647.8" r="1.9"/><circle cx="546.5" cy="651.8" r="1.9"/><circle cx="549.3" cy="649.4" r="1.9"/><circle cx="552.2" cy="645.7" r="1.9"/><circle cx="554.9" cy="657.3" r="1.9"/><circle cx="557.7" cy="671.2" r="1.9"/><circle cx="560.4" cy="659.6" r="1.9"/><circle cx="563.1" cy="671.5" r="1.9"/><circle cx="565.9" cy="679.9" r="1.9"/><circle cx="568.7" cy="675.9" r="1.9"/><circle cx="568.7" cy="681.4" r="1.9"/><circle cx="571.4" cy="690.4" r="1.9"/><circle cx="574.1" cy="682.0" r="1.9"/><circle cx="574.1" cy="690.4" r="1.9"/><circle cx="576.9" cy="688.0" r="1.9"/><circle cx="576.9" cy="701.5" r="1.9"/><circle cx="579.6" cy="685.4" r="1.9"/><circle cx="579.6" cy="696.0" r="1.9"/><circle cx="582.4" cy="683.3" r="1.9"/><circle cx="582.4" cy="700.0" r="1.9"/><circle cx="585.2" cy="685.4" r="1.9"/><circle cx="585.2" cy="696.0" r="1.9"/><circle cx="588.3" cy="683.3" r="1.9"/><circle cx="591.1" cy="688.4" r="1.9"/><circle cx="593.8" cy="686.0" r="1.9"/><circle cx="596.6" cy="684.0" r="1.9"/><circle cx="599.3" cy="693.4" r="1.9"/><circle cx="602.0" cy="697.4" r="1.9"/><circle cx="604.8" cy="691.5" r="1.9"/><circle cx="607.6" cy="693.4" r="1.9"/><circle cx="610.3" cy="696.4" r="1.9"/><circle cx="613.6" cy="699.5" r="1.9"/><circle cx="613.6" cy="689.4" r="1.9"/><circle cx="616.8" cy="683.3" r="1.9"/></g>
<g stroke="#2c4aa8" stroke-width="0.95" fill="none" stroke-opacity="0.72"><path d="M422.2 524.4V540.0M419.1 524.4H425.3M419.1 540.0H425.3M428.3 512.8V528.5M425.2 512.8H431.4M425.2 528.5H431.4M433.7 510.9V526.5M430.6 510.9H436.8M430.6 526.5H436.8M439.7 500.0V515.7M436.6 500.0H442.8M436.6 515.7H442.8M445.5 500.7V516.4M442.4 500.7H448.6M442.4 516.4H448.6M451.5 503.7V519.5M448.4 503.7H454.6M448.4 519.5H454.6M457.1 514.9V530.6M454.0 514.9H460.2M454.0 530.6H460.2M462.9 500.2V516.0M459.8 500.2H466.0M459.8 516.0H466.0M465.8 523.7V539.4M462.7 523.7H468.9M462.7 539.4H468.9M469.1 518.9V534.7M466.0 518.9H472.2M466.0 534.7H472.2M471.0 512.8V528.5M467.9 512.8H474.1M467.9 528.5H474.1M473.8 523.0V538.7M470.7 523.0H476.9M470.7 538.7H476.9M476.0 521.6V537.3M472.9 521.6H479.1M472.9 537.3H479.1M478.2 504.7V520.5M475.1 504.7H481.3M475.1 520.5H481.3M481.0 517.5V533.3M477.9 517.5H484.1M477.9 533.3H484.1M483.2 536.2V552.0M480.1 536.2H486.3M480.1 552.0H486.3M485.3 527.0V542.8M482.2 527.0H488.4M482.2 542.8H488.4M487.3 533.1V548.9M484.2 533.1H490.4M484.2 548.9H490.4M489.5 539.8V555.6M486.4 539.8H492.6M486.4 555.6H492.6M492.0 541.3V557.2M488.9 541.3H495.1M488.9 557.2H495.1M494.5 554.2V570.0M491.4 554.2H497.6M491.4 570.0H497.6M496.7 547.3V563.2M493.6 547.3H499.8M493.6 563.2H499.8M499.2 561.7V577.5M496.1 561.7H502.3M496.1 577.5H502.3M501.3 558.6V574.5M498.2 558.6H504.4M498.2 574.5H504.4M504.2 586.1V601.9M501.1 586.1H507.3M501.1 601.9H507.3M506.3 588.0V603.9M503.2 588.0H509.4M503.2 603.9H509.4M508.5 579.0V594.8M505.4 579.0H511.6M505.4 594.8H511.6M511.0 575.9V591.8M507.9 575.9H514.1M507.9 591.8H514.1M513.5 592.8V608.7M510.4 592.8H516.6M510.4 608.7H516.6M516.0 591.1V607.0M512.9 591.1H519.1M512.9 607.0H519.1M518.6 592.3V608.2M515.5 592.3H521.7M515.5 608.2H521.7M520.6 598.5V614.4M517.5 598.5H523.7M517.5 614.4H523.7M522.8 600.4V616.3M519.7 600.4H525.9M519.7 616.3H525.9M527.4 622.9V638.8M524.3 622.9H530.5M524.3 638.8H530.5M529.6 615.3V631.3M526.5 615.3H532.7M526.5 631.3H532.7M532.1 625.0V640.9M529.0 625.0H535.2M529.0 640.9H535.2M534.3 630.9V646.9M531.2 630.9H537.4M531.2 646.9H537.4M536.8 620.2V636.2M533.7 620.2H539.9M533.7 636.2H539.9M538.9 623.8V639.8M535.8 623.8H542.0M535.8 639.8H542.0M541.5 636.1V652.1M538.4 636.1H544.6M538.4 652.1H544.6M543.9 628.0V644.0M540.8 628.0H547.0M540.8 644.0H547.0M546.1 625.5V641.5M543.0 625.5H549.2M543.0 641.5H549.2M548.3 635.1V651.1M545.2 635.1H551.4M545.2 651.1H551.4M550.8 642.2V658.2M547.7 642.2H553.9M547.7 658.2H553.9M553.0 634.4V650.4M549.9 634.4H556.1M549.9 650.4H556.1M555.4 647.2V663.2M552.3 647.2H558.5M552.3 663.2H558.5M557.6 654.8V670.8M554.5 654.8H560.7M554.5 670.8H560.7M560.1 661.4V677.5M557.0 661.4H563.2M557.0 677.5H563.2M562.6 646.7V662.7M559.5 646.7H565.7M559.5 662.7H565.7M564.8 654.3V670.4M561.7 654.3H567.9M561.7 670.4H567.9M566.9 658.1V674.1M563.8 658.1H570.0M563.8 674.1H570.0M565.0 670.6V686.7M561.9 670.6H568.1M561.9 686.7H568.1M567.3 672.3V688.4M564.2 672.3H570.4M564.2 688.4H570.4M569.8 681.4V697.4M566.7 681.4H572.9M566.7 697.4H572.9M571.8 679.1V695.2M568.7 679.1H574.9M568.7 695.2H574.9M574.0 676.6V692.7M570.9 676.6H577.1M570.9 692.7H577.1M576.3 683.2V699.2M573.2 683.2H579.4M573.2 699.2H579.4M578.6 688.5V704.6M575.5 688.5H581.7M575.5 704.6H581.7M581.0 684.7V700.8M577.9 684.7H584.1M577.9 700.8H584.1M583.4 683.2V699.3M580.3 683.2H586.5M580.3 699.3H586.5M586.1 679.0V695.1M583.0 679.0H589.2M583.0 695.1H589.2M588.6 679.0V695.1M585.5 679.0H591.7M585.5 695.1H591.7M591.0 679.0V695.1M587.9 679.0H594.1M587.9 695.1H594.1M592.7 671.0V687.1M589.6 671.0H595.8M589.6 687.1H595.8M595.0 678.0V694.1M591.9 678.0H598.1M591.9 694.1H598.1M597.4 688.0V704.2M594.3 688.0H600.5M594.3 704.2H600.5M600.1 680.9V697.1M597.0 680.9H603.2M597.0 697.1H603.2M602.6 680.9V697.1M599.5 680.9H605.7M599.5 697.1H605.7M605.2 683.7V699.9M602.1 683.7H608.3M602.1 699.9H608.3M607.2 685.5V701.7M604.1 685.5H610.3M604.1 701.7H610.3M609.1 683.3V699.4M606.0 683.3H612.2M606.0 699.4H612.2"/></g><g fill="#2c4aa8"><circle cx="422.2" cy="532.2" r="1.9"/><circle cx="428.3" cy="520.7" r="1.9"/><circle cx="433.7" cy="518.7" r="1.9"/><circle cx="439.7" cy="507.8" r="1.9"/><circle cx="445.5" cy="508.5" r="1.9"/><circle cx="451.5" cy="511.6" r="1.9"/><circle cx="457.1" cy="522.8" r="1.9"/><circle cx="462.9" cy="508.1" r="1.9"/><circle cx="465.8" cy="531.5" r="1.9"/><circle cx="469.1" cy="526.8" r="1.9"/><circle cx="471.0" cy="520.7" r="1.9"/><circle cx="473.8" cy="530.8" r="1.9"/><circle cx="476.0" cy="529.4" r="1.9"/><circle cx="478.2" cy="512.6" r="1.9"/><circle cx="481.0" cy="525.4" r="1.9"/><circle cx="483.2" cy="544.1" r="1.9"/><circle cx="485.3" cy="534.9" r="1.9"/><circle cx="487.3" cy="541.0" r="1.9"/><circle cx="489.5" cy="547.7" r="1.9"/><circle cx="492.0" cy="549.3" r="1.9"/><circle cx="494.5" cy="562.1" r="1.9"/><circle cx="496.7" cy="555.2" r="1.9"/><circle cx="499.2" cy="569.6" r="1.9"/><circle cx="501.3" cy="566.5" r="1.9"/><circle cx="504.2" cy="594.0" r="1.9"/><circle cx="506.3" cy="596.0" r="1.9"/><circle cx="508.5" cy="586.9" r="1.9"/><circle cx="511.0" cy="583.8" r="1.9"/><circle cx="513.5" cy="600.7" r="1.9"/><circle cx="516.0" cy="599.0" r="1.9"/><circle cx="518.6" cy="600.3" r="1.9"/><circle cx="520.6" cy="606.4" r="1.9"/><circle cx="522.8" cy="608.4" r="1.9"/><circle cx="527.4" cy="630.8" r="1.9"/><circle cx="529.6" cy="623.3" r="1.9"/><circle cx="532.1" cy="632.9" r="1.9"/><circle cx="534.3" cy="638.9" r="1.9"/><circle cx="536.8" cy="628.2" r="1.9"/><circle cx="538.9" cy="631.8" r="1.9"/><circle cx="541.5" cy="644.1" r="1.9"/><circle cx="543.9" cy="636.0" r="1.9"/><circle cx="546.1" cy="633.5" r="1.9"/><circle cx="548.3" cy="643.1" r="1.9"/><circle cx="550.8" cy="650.2" r="1.9"/><circle cx="553.0" cy="642.4" r="1.9"/><circle cx="555.4" cy="655.2" r="1.9"/><circle cx="557.6" cy="662.8" r="1.9"/><circle cx="560.1" cy="669.5" r="1.9"/><circle cx="562.6" cy="654.7" r="1.9"/><circle cx="564.8" cy="662.3" r="1.9"/><circle cx="566.9" cy="666.1" r="1.9"/><circle cx="565.0" cy="678.7" r="1.9"/><circle cx="567.3" cy="680.3" r="1.9"/><circle cx="569.8" cy="689.4" r="1.9"/><circle cx="571.8" cy="687.2" r="1.9"/><circle cx="574.0" cy="684.7" r="1.9"/><circle cx="576.3" cy="691.2" r="1.9"/><circle cx="578.6" cy="696.5" r="1.9"/><circle cx="581.0" cy="692.7" r="1.9"/><circle cx="583.4" cy="691.2" r="1.9"/><circle cx="586.1" cy="687.0" r="1.9"/><circle cx="588.6" cy="687.0" r="1.9"/><circle cx="591.0" cy="687.0" r="1.9"/><circle cx="592.7" cy="679.1" r="1.9"/><circle cx="595.0" cy="686.1" r="1.9"/><circle cx="597.4" cy="696.1" r="1.9"/><circle cx="600.1" cy="689.0" r="1.9"/><circle cx="602.6" cy="689.0" r="1.9"/><circle cx="605.2" cy="691.8" r="1.9"/><circle cx="607.2" cy="693.6" r="1.9"/><circle cx="609.1" cy="691.4" r="1.9"/></g>
<line x1="466.95" y1="408.90" x2="466.95" y2="415.90" stroke="#000" stroke-width="1.5"/>
<line x1="466.95" y1="724.40" x2="466.95" y2="731.40" stroke="#000" stroke-width="1.5"/>
<line x1="520.65" y1="408.90" x2="520.65" y2="415.90" stroke="#000" stroke-width="1.5"/>
<line x1="520.65" y1="724.40" x2="520.65" y2="731.40" stroke="#000" stroke-width="1.5"/>
<line x1="574.35" y1="408.90" x2="574.35" y2="415.90" stroke="#000" stroke-width="1.5"/>
<line x1="574.35" y1="724.40" x2="574.35" y2="731.40" stroke="#000" stroke-width="1.5"/>
<text transform="translate(406.25,694.20) scale(0.94,1)" font-size="14.3" text-anchor="end">0</text>
<line x1="413.25" y1="619.27" x2="420.25" y2="619.27" stroke="#000" stroke-width="1.5"/>
<line x1="620.95" y1="619.27" x2="627.95" y2="619.27" stroke="#000" stroke-width="1.5"/>
<text transform="translate(406.25,624.07) scale(0.94,1)" font-size="14.3" text-anchor="end">0.5</text>
<line x1="413.25" y1="549.15" x2="420.25" y2="549.15" stroke="#000" stroke-width="1.5"/>
<line x1="620.95" y1="549.15" x2="627.95" y2="549.15" stroke="#000" stroke-width="1.5"/>
<text transform="translate(406.25,553.95) scale(0.94,1)" font-size="14.3" text-anchor="end">1.0</text>
<line x1="413.25" y1="479.02" x2="420.25" y2="479.02" stroke="#000" stroke-width="1.5"/>
<line x1="620.95" y1="479.02" x2="627.95" y2="479.02" stroke="#000" stroke-width="1.5"/>
<text transform="translate(406.25,483.82) scale(0.94,1)" font-size="14.3" text-anchor="end">1.5</text>
<text transform="translate(406.25,413.70) scale(0.94,1)" font-size="14.3" text-anchor="end">2.0</text>
<text transform="translate(413.25,747.80) scale(0.94,1)" font-size="14.3" text-anchor="middle">0.4</text>
<text transform="translate(466.95,747.80) scale(0.94,1)" font-size="14.3" text-anchor="middle">0.6</text>
<text transform="translate(520.65,747.80) scale(0.94,1)" font-size="14.3" text-anchor="middle">0.8</text>
<text transform="translate(574.35,747.80) scale(0.94,1)" font-size="14.3" text-anchor="middle">1.0</text>
<text transform="translate(628.05,747.80) scale(0.94,1)" font-size="14.3" text-anchor="middle">1.2</text>
<text transform="translate(506.00,768.10) scale(0.97,1)" font-size="15" text-anchor="start"><tspan font-style="italic">T</tspan><tspan font-style="italic">/</tspan><tspan font-style="italic">T</tspan><tspan font-size="11.5" dy="-1.8" dx="1.0">*</tspan></text>
<text transform="translate(376.00,628.20) rotate(-90) scale(1.013,1)" font-size="14.3" text-anchor="start"><tspan font-style="italic">χ</tspan><tspan font-size="9.3" font-style="italic" dy="3.3">ab</tspan><tspan dy="-3.3"> (</tspan><tspan font-style="italic">T</tspan>)/<tspan font-style="italic">χ</tspan><tspan font-size="9.3" font-style="italic" dy="3.3">ab</tspan><tspan dy="-3.3"> (0.7 </tspan><tspan font-style="italic">T</tspan><tspan font-size="11.5" dy="-1.6" dx="1.0">*</tspan><tspan dy="1.6">)</tspan></text>
<circle cx="537.4" cy="455.3" r="2.6" fill="#e0261d"/>
<text transform="translate(546.30,459.40) scale(0.94,1)" font-size="14.3" text-anchor="start"><tspan font-style="italic">p</tspan> ≈ 0.11</text>
<circle cx="537.4" cy="472.6" r="2.6" fill="#2f9a2a"/>
<text transform="translate(546.30,476.40) scale(0.94,1)" font-size="14.3" text-anchor="start"><tspan font-style="italic">p</tspan> ≈ 0.12</text>
<circle cx="537.4" cy="489.6" r="2.6" fill="#2c4aa8"/>
<text transform="translate(546.30,493.10) scale(0.94,1)" font-size="14.3" text-anchor="start"><tspan font-style="italic">p</tspan> ≈ 0.125</text>
</g></svg>
</body></html>
